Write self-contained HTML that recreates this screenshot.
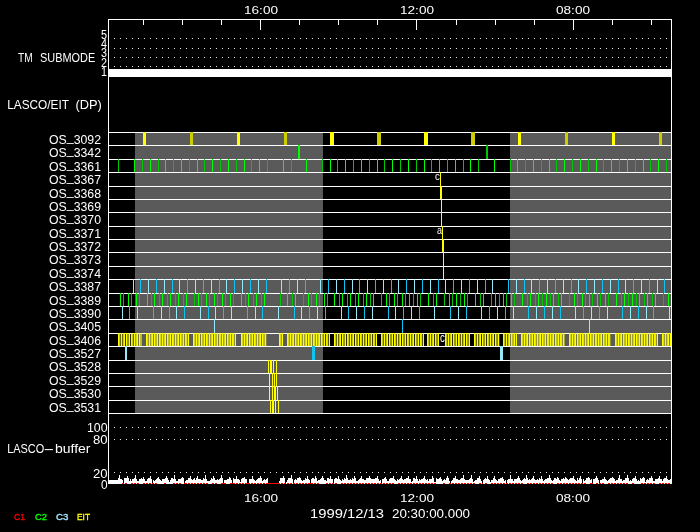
<!DOCTYPE html>
<html><head><meta charset="utf-8"><title>LASCO/EIT plan</title>
<style>
html,body{margin:0;padding:0;background:#000;}
svg{display:block;}
text{font-family:"Liberation Sans",sans-serif;}
</style></head>
<body>
<svg width="700" height="532" viewBox="0 0 700 532">
<rect x="0" y="0" width="700" height="532" fill="#000"/>
<g shape-rendering="crispEdges">
<rect x="135" y="132" width="188" height="281" fill="#5a5a5a"/>
<rect x="510" y="132" width="161" height="281" fill="#5a5a5a"/>
<rect x="108" y="132" width="564" height="1" fill="#ffffff"/>
<rect x="108" y="145" width="564" height="1" fill="#ffffff"/>
<rect x="108" y="159" width="564" height="1" fill="#ffffff"/>
<rect x="108" y="172" width="564" height="1" fill="#ffffff"/>
<rect x="108" y="186" width="564" height="1" fill="#ffffff"/>
<rect x="108" y="199" width="564" height="1" fill="#ffffff"/>
<rect x="108" y="212" width="564" height="1" fill="#ffffff"/>
<rect x="108" y="226" width="564" height="1" fill="#ffffff"/>
<rect x="108" y="239" width="564" height="1" fill="#ffffff"/>
<rect x="108" y="252" width="564" height="1" fill="#ffffff"/>
<rect x="108" y="266" width="564" height="1" fill="#ffffff"/>
<rect x="108" y="279" width="564" height="1" fill="#ffffff"/>
<rect x="108" y="293" width="564" height="1" fill="#ffffff"/>
<rect x="108" y="306" width="564" height="1" fill="#ffffff"/>
<rect x="108" y="319" width="564" height="1" fill="#ffffff"/>
<rect x="108" y="333" width="564" height="1" fill="#ffffff"/>
<rect x="108" y="346" width="564" height="1" fill="#ffffff"/>
<rect x="108" y="360" width="564" height="1" fill="#ffffff"/>
<rect x="108" y="373" width="564" height="1" fill="#ffffff"/>
<rect x="108" y="386" width="564" height="1" fill="#ffffff"/>
<rect x="108" y="400" width="564" height="1" fill="#ffffff"/>
<rect x="108" y="413" width="564" height="1" fill="#ffffff"/>
<rect x="143" y="132" width="3" height="13" fill="#ffff00"/>
<rect x="190" y="132" width="3" height="13" fill="#cdcd00"/>
<rect x="237" y="132" width="3" height="13" fill="#ffff00"/>
<rect x="284" y="132" width="3" height="13" fill="#cdcd00"/>
<rect x="330" y="132" width="4" height="13" fill="#ffff00"/>
<rect x="377" y="132" width="4" height="13" fill="#cdcd00"/>
<rect x="424" y="132" width="4" height="13" fill="#ffff00"/>
<rect x="471" y="132" width="4" height="13" fill="#cdcd00"/>
<rect x="518" y="132" width="3" height="13" fill="#ffff00"/>
<rect x="565" y="132" width="3" height="13" fill="#cdcd00"/>
<rect x="612" y="132" width="3" height="13" fill="#ffff00"/>
<rect x="659" y="132" width="3" height="13" fill="#cdcd00"/>
<rect x="298" y="145" width="2" height="14" fill="#00ff00"/>
<rect x="486" y="145" width="2" height="14" fill="#00c800"/>
<rect x="118" y="159" width="1" height="13" fill="#00c800"/>
<rect x="134" y="159" width="1" height="13" fill="#00ff00"/>
<rect x="142" y="159" width="1" height="13" fill="#00c800"/>
<rect x="150" y="159" width="1" height="13" fill="#00ff00"/>
<rect x="158" y="159" width="1" height="13" fill="#00c800"/>
<rect x="165" y="159" width="1" height="13" fill="#00ff00"/>
<rect x="173" y="159" width="1" height="13" fill="#00c800"/>
<rect x="181" y="159" width="1" height="13" fill="#00ff00"/>
<rect x="189" y="159" width="1" height="13" fill="#00c800"/>
<rect x="197" y="159" width="1" height="13" fill="#00ff00"/>
<rect x="204" y="159" width="1" height="13" fill="#00c800"/>
<rect x="212" y="159" width="1" height="13" fill="#00ff00"/>
<rect x="220" y="159" width="1" height="13" fill="#00c800"/>
<rect x="228" y="159" width="1" height="13" fill="#00ff00"/>
<rect x="236" y="159" width="1" height="13" fill="#00c800"/>
<rect x="244" y="159" width="1" height="13" fill="#00ff00"/>
<rect x="251" y="159" width="1" height="13" fill="#00c800"/>
<rect x="259" y="159" width="1" height="13" fill="#00ff00"/>
<rect x="267" y="159" width="1" height="13" fill="#00c800"/>
<rect x="283" y="159" width="1" height="13" fill="#00ff00"/>
<rect x="291" y="159" width="1" height="13" fill="#00c800"/>
<rect x="306" y="159" width="1" height="13" fill="#00ff00"/>
<rect x="322" y="159" width="1" height="13" fill="#00c800"/>
<rect x="330" y="159" width="1" height="13" fill="#00ff00"/>
<rect x="337" y="159" width="1" height="13" fill="#00c800"/>
<rect x="345" y="159" width="1" height="13" fill="#00ff00"/>
<rect x="353" y="159" width="1" height="13" fill="#00c800"/>
<rect x="361" y="159" width="1" height="13" fill="#00ff00"/>
<rect x="369" y="159" width="1" height="13" fill="#00c800"/>
<rect x="377" y="159" width="1" height="13" fill="#00ff00"/>
<rect x="384" y="159" width="1" height="13" fill="#00c800"/>
<rect x="392" y="159" width="1" height="13" fill="#00ff00"/>
<rect x="400" y="159" width="1" height="13" fill="#00c800"/>
<rect x="408" y="159" width="1" height="13" fill="#00ff00"/>
<rect x="416" y="159" width="1" height="13" fill="#00c800"/>
<rect x="424" y="159" width="1" height="13" fill="#00ff00"/>
<rect x="431" y="159" width="1" height="13" fill="#00c800"/>
<rect x="439" y="159" width="1" height="13" fill="#00ff00"/>
<rect x="447" y="159" width="1" height="13" fill="#00c800"/>
<rect x="455" y="159" width="1" height="13" fill="#00ff00"/>
<rect x="463" y="159" width="1" height="13" fill="#00c800"/>
<rect x="470" y="159" width="1" height="13" fill="#00ff00"/>
<rect x="478" y="159" width="1" height="13" fill="#00c800"/>
<rect x="494" y="159" width="1" height="13" fill="#00ff00"/>
<rect x="510" y="159" width="1" height="13" fill="#00c800"/>
<rect x="517" y="159" width="1" height="13" fill="#00ff00"/>
<rect x="525" y="159" width="1" height="13" fill="#00c800"/>
<rect x="533" y="159" width="1" height="13" fill="#00ff00"/>
<rect x="541" y="159" width="1" height="13" fill="#00c800"/>
<rect x="549" y="159" width="1" height="13" fill="#00ff00"/>
<rect x="556" y="159" width="1" height="13" fill="#00c800"/>
<rect x="564" y="159" width="1" height="13" fill="#00ff00"/>
<rect x="572" y="159" width="1" height="13" fill="#00c800"/>
<rect x="580" y="159" width="1" height="13" fill="#00ff00"/>
<rect x="588" y="159" width="1" height="13" fill="#00c800"/>
<rect x="596" y="159" width="1" height="13" fill="#00ff00"/>
<rect x="603" y="159" width="1" height="13" fill="#00c800"/>
<rect x="611" y="159" width="1" height="13" fill="#00ff00"/>
<rect x="619" y="159" width="1" height="13" fill="#00c800"/>
<rect x="627" y="159" width="1" height="13" fill="#00ff00"/>
<rect x="635" y="159" width="1" height="13" fill="#00c800"/>
<rect x="643" y="159" width="1" height="13" fill="#00ff00"/>
<rect x="650" y="159" width="1" height="13" fill="#00c800"/>
<rect x="658" y="159" width="1" height="13" fill="#00ff00"/>
<rect x="666" y="159" width="1" height="13" fill="#00c800"/>
<rect x="440" y="172" width="1" height="14" fill="#ffff00"/>
<rect x="440" y="186" width="2" height="13" fill="#ffff00"/>
<rect x="441" y="199" width="1" height="13" fill="#ffff00"/>
<rect x="441" y="212" width="1" height="14" fill="#ffff00"/>
<rect x="442" y="226" width="1" height="13" fill="#ffff00"/>
<rect x="442" y="239" width="2" height="13" fill="#ffff00"/>
<rect x="443" y="252" width="1" height="14" fill="#ffff00"/>
<rect x="443" y="266" width="1" height="13" fill="#ffff00"/>
<rect x="133" y="279" width="1" height="14" fill="#96eaf8"/>
<rect x="140" y="279" width="1" height="14" fill="#0ec4f0"/>
<rect x="148" y="279" width="1" height="14" fill="#96eaf8"/>
<rect x="156" y="279" width="1" height="14" fill="#0ec4f0"/>
<rect x="164" y="279" width="1" height="14" fill="#96eaf8"/>
<rect x="172" y="279" width="1" height="14" fill="#0ec4f0"/>
<rect x="179" y="279" width="1" height="14" fill="#96eaf8"/>
<rect x="187" y="279" width="1" height="14" fill="#0ec4f0"/>
<rect x="195" y="279" width="1" height="14" fill="#96eaf8"/>
<rect x="203" y="279" width="1" height="14" fill="#0ec4f0"/>
<rect x="211" y="279" width="1" height="14" fill="#96eaf8"/>
<rect x="219" y="279" width="1" height="14" fill="#0ec4f0"/>
<rect x="226" y="279" width="1" height="14" fill="#96eaf8"/>
<rect x="234" y="279" width="1" height="14" fill="#0ec4f0"/>
<rect x="242" y="279" width="1" height="14" fill="#96eaf8"/>
<rect x="250" y="279" width="1" height="14" fill="#0ec4f0"/>
<rect x="258" y="279" width="1" height="14" fill="#96eaf8"/>
<rect x="266" y="279" width="1" height="14" fill="#0ec4f0"/>
<rect x="281" y="279" width="1" height="14" fill="#96eaf8"/>
<rect x="289" y="279" width="1" height="14" fill="#0ec4f0"/>
<rect x="297" y="279" width="1" height="14" fill="#96eaf8"/>
<rect x="305" y="279" width="1" height="14" fill="#0ec4f0"/>
<rect x="320" y="279" width="1" height="14" fill="#96eaf8"/>
<rect x="328" y="279" width="1" height="14" fill="#0ec4f0"/>
<rect x="336" y="279" width="1" height="14" fill="#96eaf8"/>
<rect x="344" y="279" width="1" height="14" fill="#0ec4f0"/>
<rect x="352" y="279" width="1" height="14" fill="#96eaf8"/>
<rect x="359" y="279" width="1" height="14" fill="#0ec4f0"/>
<rect x="367" y="279" width="1" height="14" fill="#96eaf8"/>
<rect x="375" y="279" width="1" height="14" fill="#0ec4f0"/>
<rect x="383" y="279" width="1" height="14" fill="#96eaf8"/>
<rect x="391" y="279" width="1" height="14" fill="#0ec4f0"/>
<rect x="398" y="279" width="1" height="14" fill="#96eaf8"/>
<rect x="406" y="279" width="1" height="14" fill="#0ec4f0"/>
<rect x="414" y="279" width="1" height="14" fill="#96eaf8"/>
<rect x="422" y="279" width="1" height="14" fill="#0ec4f0"/>
<rect x="430" y="279" width="1" height="14" fill="#96eaf8"/>
<rect x="438" y="279" width="1" height="14" fill="#0ec4f0"/>
<rect x="445" y="279" width="1" height="14" fill="#96eaf8"/>
<rect x="453" y="279" width="1" height="14" fill="#0ec4f0"/>
<rect x="461" y="279" width="1" height="14" fill="#96eaf8"/>
<rect x="469" y="279" width="1" height="14" fill="#0ec4f0"/>
<rect x="477" y="279" width="1" height="14" fill="#96eaf8"/>
<rect x="485" y="279" width="1" height="14" fill="#0ec4f0"/>
<rect x="492" y="279" width="1" height="14" fill="#96eaf8"/>
<rect x="508" y="279" width="1" height="14" fill="#0ec4f0"/>
<rect x="516" y="279" width="1" height="14" fill="#96eaf8"/>
<rect x="524" y="279" width="1" height="14" fill="#0ec4f0"/>
<rect x="531" y="279" width="1" height="14" fill="#96eaf8"/>
<rect x="539" y="279" width="1" height="14" fill="#0ec4f0"/>
<rect x="547" y="279" width="1" height="14" fill="#96eaf8"/>
<rect x="555" y="279" width="1" height="14" fill="#0ec4f0"/>
<rect x="563" y="279" width="1" height="14" fill="#96eaf8"/>
<rect x="571" y="279" width="1" height="14" fill="#0ec4f0"/>
<rect x="578" y="279" width="1" height="14" fill="#96eaf8"/>
<rect x="586" y="279" width="1" height="14" fill="#0ec4f0"/>
<rect x="594" y="279" width="1" height="14" fill="#96eaf8"/>
<rect x="602" y="279" width="1" height="14" fill="#0ec4f0"/>
<rect x="610" y="279" width="1" height="14" fill="#96eaf8"/>
<rect x="618" y="279" width="1" height="14" fill="#0ec4f0"/>
<rect x="625" y="279" width="1" height="14" fill="#96eaf8"/>
<rect x="633" y="279" width="1" height="14" fill="#0ec4f0"/>
<rect x="641" y="279" width="1" height="14" fill="#96eaf8"/>
<rect x="649" y="279" width="1" height="14" fill="#0ec4f0"/>
<rect x="657" y="279" width="1" height="14" fill="#96eaf8"/>
<rect x="664" y="279" width="1" height="14" fill="#0ec4f0"/>
<rect x="120" y="293" width="1" height="13" fill="#00ff00"/>
<rect x="123" y="293" width="1" height="13" fill="#00c800"/>
<rect x="128" y="293" width="1" height="13" fill="#00ff00"/>
<rect x="131" y="293" width="1" height="13" fill="#00c800"/>
<rect x="136" y="293" width="1" height="13" fill="#00ff00"/>
<rect x="139" y="293" width="1" height="13" fill="#00c800"/>
<rect x="147" y="293" width="1" height="13" fill="#00ff00"/>
<rect x="151" y="293" width="1" height="13" fill="#00c800"/>
<rect x="154" y="293" width="1" height="13" fill="#00ff00"/>
<rect x="159" y="293" width="1" height="13" fill="#00c800"/>
<rect x="162" y="293" width="1" height="13" fill="#00ff00"/>
<rect x="167" y="293" width="1" height="13" fill="#00c800"/>
<rect x="170" y="293" width="1" height="13" fill="#00ff00"/>
<rect x="175" y="293" width="1" height="13" fill="#00c800"/>
<rect x="178" y="293" width="1" height="13" fill="#00ff00"/>
<rect x="183" y="293" width="1" height="13" fill="#00c800"/>
<rect x="186" y="293" width="1" height="13" fill="#00ff00"/>
<rect x="194" y="293" width="1" height="13" fill="#00c800"/>
<rect x="198" y="293" width="1" height="13" fill="#00ff00"/>
<rect x="201" y="293" width="1" height="13" fill="#00c800"/>
<rect x="206" y="293" width="1" height="13" fill="#00ff00"/>
<rect x="209" y="293" width="1" height="13" fill="#00c800"/>
<rect x="214" y="293" width="1" height="13" fill="#00ff00"/>
<rect x="217" y="293" width="1" height="13" fill="#00c800"/>
<rect x="222" y="293" width="1" height="13" fill="#00ff00"/>
<rect x="225" y="293" width="1" height="13" fill="#00c800"/>
<rect x="230" y="293" width="1" height="13" fill="#00ff00"/>
<rect x="233" y="293" width="1" height="13" fill="#00c800"/>
<rect x="241" y="293" width="1" height="13" fill="#00ff00"/>
<rect x="245" y="293" width="1" height="13" fill="#00c800"/>
<rect x="248" y="293" width="1" height="13" fill="#00ff00"/>
<rect x="253" y="293" width="1" height="13" fill="#00c800"/>
<rect x="256" y="293" width="1" height="13" fill="#00ff00"/>
<rect x="261" y="293" width="1" height="13" fill="#00c800"/>
<rect x="264" y="293" width="1" height="13" fill="#00ff00"/>
<rect x="280" y="293" width="1" height="13" fill="#00c800"/>
<rect x="287" y="293" width="1" height="13" fill="#00ff00"/>
<rect x="292" y="293" width="1" height="13" fill="#00c800"/>
<rect x="295" y="293" width="1" height="13" fill="#00ff00"/>
<rect x="303" y="293" width="1" height="13" fill="#00c800"/>
<rect x="308" y="293" width="1" height="13" fill="#00ff00"/>
<rect x="311" y="293" width="1" height="13" fill="#00c800"/>
<rect x="316" y="293" width="1" height="13" fill="#00ff00"/>
<rect x="319" y="293" width="1" height="13" fill="#00c800"/>
<rect x="324" y="293" width="1" height="13" fill="#00ff00"/>
<rect x="327" y="293" width="1" height="13" fill="#00c800"/>
<rect x="334" y="293" width="1" height="13" fill="#00ff00"/>
<rect x="339" y="293" width="1" height="13" fill="#00c800"/>
<rect x="342" y="293" width="1" height="13" fill="#00ff00"/>
<rect x="347" y="293" width="1" height="13" fill="#00c800"/>
<rect x="350" y="293" width="1" height="13" fill="#00ff00"/>
<rect x="355" y="293" width="1" height="13" fill="#00c800"/>
<rect x="358" y="293" width="1" height="13" fill="#00ff00"/>
<rect x="363" y="293" width="1" height="13" fill="#00c800"/>
<rect x="366" y="293" width="1" height="13" fill="#00ff00"/>
<rect x="370" y="293" width="1" height="13" fill="#00c800"/>
<rect x="373" y="293" width="1" height="13" fill="#00ff00"/>
<rect x="381" y="293" width="1" height="13" fill="#00c800"/>
<rect x="386" y="293" width="1" height="13" fill="#00ff00"/>
<rect x="389" y="293" width="1" height="13" fill="#00c800"/>
<rect x="394" y="293" width="1" height="13" fill="#00ff00"/>
<rect x="397" y="293" width="1" height="13" fill="#00c800"/>
<rect x="402" y="293" width="1" height="13" fill="#00ff00"/>
<rect x="405" y="293" width="1" height="13" fill="#00c800"/>
<rect x="409" y="293" width="1" height="13" fill="#00ff00"/>
<rect x="413" y="293" width="1" height="13" fill="#00c800"/>
<rect x="417" y="293" width="1" height="13" fill="#00ff00"/>
<rect x="420" y="293" width="1" height="13" fill="#00c800"/>
<rect x="428" y="293" width="1" height="13" fill="#00ff00"/>
<rect x="433" y="293" width="1" height="13" fill="#00c800"/>
<rect x="436" y="293" width="1" height="13" fill="#00ff00"/>
<rect x="444" y="293" width="1" height="13" fill="#00c800"/>
<rect x="449" y="293" width="1" height="13" fill="#00ff00"/>
<rect x="452" y="293" width="1" height="13" fill="#00c800"/>
<rect x="456" y="293" width="1" height="13" fill="#00ff00"/>
<rect x="460" y="293" width="1" height="13" fill="#00c800"/>
<rect x="464" y="293" width="1" height="13" fill="#00ff00"/>
<rect x="467" y="293" width="1" height="13" fill="#00c800"/>
<rect x="475" y="293" width="1" height="13" fill="#00ff00"/>
<rect x="480" y="293" width="1" height="13" fill="#00c800"/>
<rect x="483" y="293" width="1" height="13" fill="#00ff00"/>
<rect x="491" y="293" width="1" height="13" fill="#00c800"/>
<rect x="495" y="293" width="1" height="13" fill="#00ff00"/>
<rect x="499" y="293" width="1" height="13" fill="#00c800"/>
<rect x="503" y="293" width="1" height="13" fill="#00ff00"/>
<rect x="506" y="293" width="1" height="13" fill="#00c800"/>
<rect x="511" y="293" width="1" height="13" fill="#00ff00"/>
<rect x="514" y="293" width="1" height="13" fill="#00c800"/>
<rect x="522" y="293" width="1" height="13" fill="#00ff00"/>
<rect x="527" y="293" width="1" height="13" fill="#00c800"/>
<rect x="530" y="293" width="1" height="13" fill="#00ff00"/>
<rect x="535" y="293" width="1" height="13" fill="#00c800"/>
<rect x="538" y="293" width="1" height="13" fill="#00ff00"/>
<rect x="542" y="293" width="1" height="13" fill="#00c800"/>
<rect x="546" y="293" width="1" height="13" fill="#00ff00"/>
<rect x="550" y="293" width="1" height="13" fill="#00c800"/>
<rect x="553" y="293" width="1" height="13" fill="#00ff00"/>
<rect x="558" y="293" width="1" height="13" fill="#00c800"/>
<rect x="561" y="293" width="1" height="13" fill="#00ff00"/>
<rect x="569" y="293" width="1" height="13" fill="#00c800"/>
<rect x="574" y="293" width="1" height="13" fill="#00ff00"/>
<rect x="577" y="293" width="1" height="13" fill="#00c800"/>
<rect x="582" y="293" width="1" height="13" fill="#00ff00"/>
<rect x="585" y="293" width="1" height="13" fill="#00c800"/>
<rect x="589" y="293" width="1" height="13" fill="#00ff00"/>
<rect x="592" y="293" width="1" height="13" fill="#00c800"/>
<rect x="597" y="293" width="1" height="13" fill="#00ff00"/>
<rect x="600" y="293" width="1" height="13" fill="#00c800"/>
<rect x="605" y="293" width="1" height="13" fill="#00ff00"/>
<rect x="608" y="293" width="1" height="13" fill="#00c800"/>
<rect x="616" y="293" width="1" height="13" fill="#00ff00"/>
<rect x="621" y="293" width="1" height="13" fill="#00c800"/>
<rect x="624" y="293" width="1" height="13" fill="#00ff00"/>
<rect x="628" y="293" width="1" height="13" fill="#00c800"/>
<rect x="632" y="293" width="1" height="13" fill="#00ff00"/>
<rect x="636" y="293" width="1" height="13" fill="#00c800"/>
<rect x="639" y="293" width="1" height="13" fill="#00ff00"/>
<rect x="644" y="293" width="1" height="13" fill="#00c800"/>
<rect x="647" y="293" width="1" height="13" fill="#00ff00"/>
<rect x="652" y="293" width="1" height="13" fill="#00c800"/>
<rect x="655" y="293" width="1" height="13" fill="#00ff00"/>
<rect x="663" y="293" width="1" height="13" fill="#00c800"/>
<rect x="668" y="293" width="1" height="13" fill="#00ff00"/>
<rect x="122" y="306" width="1" height="13" fill="#96eaf8"/>
<rect x="129" y="306" width="1" height="13" fill="#0ec4f0"/>
<rect x="137" y="306" width="1" height="13" fill="#96eaf8"/>
<rect x="153" y="306" width="1" height="13" fill="#0ec4f0"/>
<rect x="161" y="306" width="1" height="13" fill="#96eaf8"/>
<rect x="169" y="306" width="1" height="13" fill="#0ec4f0"/>
<rect x="176" y="306" width="1" height="13" fill="#96eaf8"/>
<rect x="184" y="306" width="1" height="13" fill="#0ec4f0"/>
<rect x="200" y="306" width="1" height="13" fill="#96eaf8"/>
<rect x="208" y="306" width="1" height="13" fill="#0ec4f0"/>
<rect x="215" y="306" width="1" height="13" fill="#96eaf8"/>
<rect x="223" y="306" width="1" height="13" fill="#0ec4f0"/>
<rect x="231" y="306" width="1" height="13" fill="#96eaf8"/>
<rect x="247" y="306" width="1" height="13" fill="#0ec4f0"/>
<rect x="255" y="306" width="1" height="13" fill="#96eaf8"/>
<rect x="262" y="306" width="1" height="13" fill="#0ec4f0"/>
<rect x="278" y="306" width="1" height="13" fill="#96eaf8"/>
<rect x="294" y="306" width="1" height="13" fill="#0ec4f0"/>
<rect x="301" y="306" width="1" height="13" fill="#96eaf8"/>
<rect x="309" y="306" width="1" height="13" fill="#0ec4f0"/>
<rect x="317" y="306" width="1" height="13" fill="#96eaf8"/>
<rect x="325" y="306" width="1" height="13" fill="#0ec4f0"/>
<rect x="341" y="306" width="1" height="13" fill="#96eaf8"/>
<rect x="348" y="306" width="1" height="13" fill="#0ec4f0"/>
<rect x="356" y="306" width="1" height="13" fill="#96eaf8"/>
<rect x="364" y="306" width="1" height="13" fill="#0ec4f0"/>
<rect x="372" y="306" width="1" height="13" fill="#96eaf8"/>
<rect x="388" y="306" width="1" height="13" fill="#0ec4f0"/>
<rect x="395" y="306" width="1" height="13" fill="#96eaf8"/>
<rect x="403" y="306" width="1" height="13" fill="#0ec4f0"/>
<rect x="411" y="306" width="1" height="13" fill="#96eaf8"/>
<rect x="419" y="306" width="1" height="13" fill="#0ec4f0"/>
<rect x="434" y="306" width="1" height="13" fill="#96eaf8"/>
<rect x="450" y="306" width="1" height="13" fill="#0ec4f0"/>
<rect x="458" y="306" width="1" height="13" fill="#96eaf8"/>
<rect x="466" y="306" width="1" height="13" fill="#0ec4f0"/>
<rect x="481" y="306" width="1" height="13" fill="#96eaf8"/>
<rect x="489" y="306" width="1" height="13" fill="#0ec4f0"/>
<rect x="497" y="306" width="1" height="13" fill="#96eaf8"/>
<rect x="505" y="306" width="1" height="13" fill="#0ec4f0"/>
<rect x="513" y="306" width="1" height="13" fill="#96eaf8"/>
<rect x="528" y="306" width="1" height="13" fill="#0ec4f0"/>
<rect x="536" y="306" width="1" height="13" fill="#96eaf8"/>
<rect x="544" y="306" width="1" height="13" fill="#0ec4f0"/>
<rect x="552" y="306" width="1" height="13" fill="#96eaf8"/>
<rect x="560" y="306" width="1" height="13" fill="#0ec4f0"/>
<rect x="575" y="306" width="1" height="13" fill="#96eaf8"/>
<rect x="583" y="306" width="1" height="13" fill="#0ec4f0"/>
<rect x="591" y="306" width="1" height="13" fill="#96eaf8"/>
<rect x="599" y="306" width="1" height="13" fill="#0ec4f0"/>
<rect x="607" y="306" width="1" height="13" fill="#96eaf8"/>
<rect x="622" y="306" width="1" height="13" fill="#0ec4f0"/>
<rect x="630" y="306" width="1" height="13" fill="#96eaf8"/>
<rect x="638" y="306" width="1" height="13" fill="#0ec4f0"/>
<rect x="646" y="306" width="1" height="13" fill="#96eaf8"/>
<rect x="653" y="306" width="1" height="13" fill="#0ec4f0"/>
<rect x="669" y="306" width="1" height="13" fill="#96eaf8"/>
<rect x="214" y="319" width="1" height="14" fill="#96eaf8"/>
<rect x="402" y="319" width="1" height="14" fill="#0ec4f0"/>
<rect x="589" y="319" width="1" height="14" fill="#96eaf8"/>
</g><g><rect x="118.00" y="333" width="1.78" height="13" fill="#ffff00"/><rect x="120.61" y="333" width="1.78" height="13" fill="#ffff00"/><rect x="123.21" y="333" width="1.78" height="13" fill="#ffff00"/><rect x="125.82" y="333" width="1.78" height="13" fill="#ffff00"/><rect x="128.42" y="333" width="1.78" height="13" fill="#ffff00"/><rect x="131.03" y="333" width="1.78" height="13" fill="#ffff00"/><rect x="133.63" y="333" width="1.78" height="13" fill="#ffff00"/><rect x="136.23" y="333" width="1.78" height="13" fill="#ffff00"/><rect x="138.84" y="333" width="1.78" height="13" fill="#ffff00"/><rect x="141.44" y="333" width="0.56" height="13" fill="#ffff00"/><rect x="146.00" y="333" width="1.78" height="13" fill="#ffff00"/><rect x="148.60" y="333" width="1.78" height="13" fill="#ffff00"/><rect x="151.21" y="333" width="1.78" height="13" fill="#ffff00"/><rect x="153.81" y="333" width="1.78" height="13" fill="#ffff00"/><rect x="156.42" y="333" width="1.78" height="13" fill="#ffff00"/><rect x="159.02" y="333" width="1.78" height="13" fill="#ffff00"/><rect x="161.63" y="333" width="1.78" height="13" fill="#ffff00"/><rect x="164.23" y="333" width="1.78" height="13" fill="#ffff00"/><rect x="166.84" y="333" width="1.78" height="13" fill="#ffff00"/><rect x="169.44" y="333" width="1.78" height="13" fill="#ffff00"/><rect x="172.05" y="333" width="1.78" height="13" fill="#ffff00"/><rect x="174.65" y="333" width="1.78" height="13" fill="#ffff00"/><rect x="177.26" y="333" width="1.78" height="13" fill="#ffff00"/><rect x="179.86" y="333" width="1.78" height="13" fill="#ffff00"/><rect x="182.47" y="333" width="1.78" height="13" fill="#ffff00"/><rect x="185.07" y="333" width="1.78" height="13" fill="#ffff00"/><rect x="187.68" y="333" width="1.32" height="13" fill="#ffff00"/><rect x="193.00" y="333" width="1.78" height="13" fill="#ffff00"/><rect x="195.60" y="333" width="1.78" height="13" fill="#ffff00"/><rect x="198.21" y="333" width="1.78" height="13" fill="#ffff00"/><rect x="200.81" y="333" width="1.78" height="13" fill="#ffff00"/><rect x="203.42" y="333" width="1.78" height="13" fill="#ffff00"/><rect x="206.02" y="333" width="1.78" height="13" fill="#ffff00"/><rect x="208.63" y="333" width="1.78" height="13" fill="#ffff00"/><rect x="211.23" y="333" width="1.78" height="13" fill="#ffff00"/><rect x="213.84" y="333" width="1.78" height="13" fill="#ffff00"/><rect x="216.44" y="333" width="1.78" height="13" fill="#ffff00"/><rect x="219.05" y="333" width="1.78" height="13" fill="#ffff00"/><rect x="221.65" y="333" width="1.78" height="13" fill="#ffff00"/><rect x="224.26" y="333" width="1.78" height="13" fill="#ffff00"/><rect x="226.86" y="333" width="1.78" height="13" fill="#ffff00"/><rect x="229.47" y="333" width="1.78" height="13" fill="#ffff00"/><rect x="232.07" y="333" width="1.78" height="13" fill="#ffff00"/><rect x="234.68" y="333" width="1.32" height="13" fill="#ffff00"/><rect x="241.00" y="333" width="1.78" height="13" fill="#ffff00"/><rect x="243.60" y="333" width="1.78" height="13" fill="#ffff00"/><rect x="246.21" y="333" width="1.78" height="13" fill="#ffff00"/><rect x="248.81" y="333" width="1.78" height="13" fill="#ffff00"/><rect x="251.42" y="333" width="1.78" height="13" fill="#ffff00"/><rect x="254.02" y="333" width="1.78" height="13" fill="#ffff00"/><rect x="256.63" y="333" width="1.78" height="13" fill="#ffff00"/><rect x="259.23" y="333" width="1.78" height="13" fill="#ffff00"/><rect x="261.84" y="333" width="1.78" height="13" fill="#ffff00"/><rect x="264.44" y="333" width="1.78" height="13" fill="#ffff00"/><rect x="279.00" y="333" width="1.78" height="13" fill="#ffff00"/><rect x="281.61" y="333" width="1.39" height="13" fill="#ffff00"/><rect x="287.00" y="333" width="1.78" height="13" fill="#ffff00"/><rect x="289.61" y="333" width="1.78" height="13" fill="#ffff00"/><rect x="292.21" y="333" width="1.78" height="13" fill="#ffff00"/><rect x="294.82" y="333" width="1.78" height="13" fill="#ffff00"/><rect x="297.42" y="333" width="1.78" height="13" fill="#ffff00"/><rect x="300.03" y="333" width="1.78" height="13" fill="#ffff00"/><rect x="302.63" y="333" width="1.78" height="13" fill="#ffff00"/><rect x="305.24" y="333" width="1.78" height="13" fill="#ffff00"/><rect x="307.84" y="333" width="1.78" height="13" fill="#ffff00"/><rect x="310.45" y="333" width="1.78" height="13" fill="#ffff00"/><rect x="313.05" y="333" width="1.78" height="13" fill="#ffff00"/><rect x="315.66" y="333" width="1.78" height="13" fill="#ffff00"/><rect x="318.26" y="333" width="1.78" height="13" fill="#ffff00"/><rect x="320.87" y="333" width="1.78" height="13" fill="#ffff00"/><rect x="323.47" y="333" width="1.78" height="13" fill="#ffff00"/><rect x="326.08" y="333" width="1.78" height="13" fill="#ffff00"/><rect x="328.68" y="333" width="1.32" height="13" fill="#ffff00"/><rect x="334.00" y="333" width="1.78" height="13" fill="#ffff00"/><rect x="336.61" y="333" width="1.78" height="13" fill="#ffff00"/><rect x="339.21" y="333" width="1.78" height="13" fill="#ffff00"/><rect x="341.82" y="333" width="1.78" height="13" fill="#ffff00"/><rect x="344.42" y="333" width="1.78" height="13" fill="#ffff00"/><rect x="347.03" y="333" width="1.78" height="13" fill="#ffff00"/><rect x="349.63" y="333" width="1.78" height="13" fill="#ffff00"/><rect x="352.24" y="333" width="1.78" height="13" fill="#ffff00"/><rect x="354.84" y="333" width="1.78" height="13" fill="#ffff00"/><rect x="357.45" y="333" width="1.78" height="13" fill="#ffff00"/><rect x="360.05" y="333" width="1.78" height="13" fill="#ffff00"/><rect x="362.66" y="333" width="1.78" height="13" fill="#ffff00"/><rect x="365.26" y="333" width="1.78" height="13" fill="#ffff00"/><rect x="367.87" y="333" width="1.78" height="13" fill="#ffff00"/><rect x="370.47" y="333" width="1.78" height="13" fill="#ffff00"/><rect x="373.08" y="333" width="1.78" height="13" fill="#ffff00"/><rect x="375.68" y="333" width="1.32" height="13" fill="#ffff00"/><rect x="381.00" y="333" width="1.78" height="13" fill="#ffff00"/><rect x="383.61" y="333" width="1.78" height="13" fill="#ffff00"/><rect x="386.21" y="333" width="1.78" height="13" fill="#ffff00"/><rect x="388.82" y="333" width="1.78" height="13" fill="#ffff00"/><rect x="391.42" y="333" width="1.78" height="13" fill="#ffff00"/><rect x="394.03" y="333" width="1.78" height="13" fill="#ffff00"/><rect x="396.63" y="333" width="1.78" height="13" fill="#ffff00"/><rect x="399.24" y="333" width="1.78" height="13" fill="#ffff00"/><rect x="401.84" y="333" width="1.78" height="13" fill="#ffff00"/><rect x="404.45" y="333" width="1.78" height="13" fill="#ffff00"/><rect x="407.05" y="333" width="1.78" height="13" fill="#ffff00"/><rect x="409.66" y="333" width="1.78" height="13" fill="#ffff00"/><rect x="412.26" y="333" width="1.78" height="13" fill="#ffff00"/><rect x="414.87" y="333" width="1.78" height="13" fill="#ffff00"/><rect x="417.47" y="333" width="1.78" height="13" fill="#ffff00"/><rect x="420.08" y="333" width="1.78" height="13" fill="#ffff00"/><rect x="422.68" y="333" width="1.32" height="13" fill="#ffff00"/><rect x="427.00" y="333" width="1.78" height="13" fill="#ffff00"/><rect x="429.61" y="333" width="1.78" height="13" fill="#ffff00"/><rect x="432.21" y="333" width="1.78" height="13" fill="#ffff00"/><rect x="434.82" y="333" width="1.78" height="13" fill="#ffff00"/><rect x="437.42" y="333" width="1.58" height="13" fill="#ffff00"/><rect x="445.00" y="333" width="1.78" height="13" fill="#ffff00"/><rect x="447.61" y="333" width="1.78" height="13" fill="#ffff00"/><rect x="450.21" y="333" width="1.78" height="13" fill="#ffff00"/><rect x="452.82" y="333" width="1.78" height="13" fill="#ffff00"/><rect x="455.42" y="333" width="1.78" height="13" fill="#ffff00"/><rect x="458.03" y="333" width="1.78" height="13" fill="#ffff00"/><rect x="460.63" y="333" width="1.78" height="13" fill="#ffff00"/><rect x="463.24" y="333" width="1.78" height="13" fill="#ffff00"/><rect x="465.84" y="333" width="1.78" height="13" fill="#ffff00"/><rect x="468.45" y="333" width="1.55" height="13" fill="#ffff00"/><rect x="474.00" y="333" width="1.78" height="13" fill="#ffff00"/><rect x="476.61" y="333" width="1.78" height="13" fill="#ffff00"/><rect x="479.21" y="333" width="1.78" height="13" fill="#ffff00"/><rect x="481.82" y="333" width="1.78" height="13" fill="#ffff00"/><rect x="484.42" y="333" width="1.78" height="13" fill="#ffff00"/><rect x="487.03" y="333" width="1.78" height="13" fill="#ffff00"/><rect x="489.63" y="333" width="1.78" height="13" fill="#ffff00"/><rect x="492.24" y="333" width="1.78" height="13" fill="#ffff00"/><rect x="494.84" y="333" width="1.78" height="13" fill="#ffff00"/><rect x="497.45" y="333" width="1.78" height="13" fill="#ffff00"/><rect x="503.00" y="333" width="1.78" height="13" fill="#ffff00"/><rect x="505.61" y="333" width="1.78" height="13" fill="#ffff00"/><rect x="508.21" y="333" width="1.78" height="13" fill="#ffff00"/><rect x="510.82" y="333" width="1.78" height="13" fill="#ffff00"/><rect x="513.42" y="333" width="1.78" height="13" fill="#ffff00"/><rect x="516.03" y="333" width="0.97" height="13" fill="#ffff00"/><rect x="521.00" y="333" width="1.78" height="13" fill="#ffff00"/><rect x="523.61" y="333" width="1.78" height="13" fill="#ffff00"/><rect x="526.21" y="333" width="1.78" height="13" fill="#ffff00"/><rect x="528.82" y="333" width="1.78" height="13" fill="#ffff00"/><rect x="531.42" y="333" width="1.78" height="13" fill="#ffff00"/><rect x="534.03" y="333" width="1.78" height="13" fill="#ffff00"/><rect x="536.63" y="333" width="1.78" height="13" fill="#ffff00"/><rect x="539.24" y="333" width="1.78" height="13" fill="#ffff00"/><rect x="541.84" y="333" width="1.78" height="13" fill="#ffff00"/><rect x="544.45" y="333" width="1.78" height="13" fill="#ffff00"/><rect x="547.05" y="333" width="1.78" height="13" fill="#ffff00"/><rect x="549.66" y="333" width="1.78" height="13" fill="#ffff00"/><rect x="552.26" y="333" width="1.78" height="13" fill="#ffff00"/><rect x="554.87" y="333" width="1.78" height="13" fill="#ffff00"/><rect x="557.47" y="333" width="1.78" height="13" fill="#ffff00"/><rect x="560.08" y="333" width="1.78" height="13" fill="#ffff00"/><rect x="562.68" y="333" width="1.78" height="13" fill="#ffff00"/><rect x="569.00" y="333" width="1.78" height="13" fill="#ffff00"/><rect x="571.61" y="333" width="1.78" height="13" fill="#ffff00"/><rect x="574.21" y="333" width="1.78" height="13" fill="#ffff00"/><rect x="576.82" y="333" width="1.78" height="13" fill="#ffff00"/><rect x="579.42" y="333" width="1.78" height="13" fill="#ffff00"/><rect x="582.03" y="333" width="1.78" height="13" fill="#ffff00"/><rect x="584.63" y="333" width="1.78" height="13" fill="#ffff00"/><rect x="587.24" y="333" width="1.78" height="13" fill="#ffff00"/><rect x="589.84" y="333" width="1.78" height="13" fill="#ffff00"/><rect x="592.45" y="333" width="1.78" height="13" fill="#ffff00"/><rect x="595.05" y="333" width="1.78" height="13" fill="#ffff00"/><rect x="597.66" y="333" width="1.78" height="13" fill="#ffff00"/><rect x="600.26" y="333" width="1.78" height="13" fill="#ffff00"/><rect x="602.87" y="333" width="1.78" height="13" fill="#ffff00"/><rect x="605.47" y="333" width="1.78" height="13" fill="#ffff00"/><rect x="608.08" y="333" width="1.78" height="13" fill="#ffff00"/><rect x="610.68" y="333" width="0.32" height="13" fill="#ffff00"/><rect x="615.00" y="333" width="1.78" height="13" fill="#ffff00"/><rect x="617.61" y="333" width="1.78" height="13" fill="#ffff00"/><rect x="620.21" y="333" width="1.78" height="13" fill="#ffff00"/><rect x="622.82" y="333" width="1.78" height="13" fill="#ffff00"/><rect x="625.42" y="333" width="1.78" height="13" fill="#ffff00"/><rect x="628.03" y="333" width="1.78" height="13" fill="#ffff00"/><rect x="630.63" y="333" width="1.78" height="13" fill="#ffff00"/><rect x="633.24" y="333" width="1.78" height="13" fill="#ffff00"/><rect x="635.84" y="333" width="1.78" height="13" fill="#ffff00"/><rect x="638.45" y="333" width="1.78" height="13" fill="#ffff00"/><rect x="641.05" y="333" width="1.78" height="13" fill="#ffff00"/><rect x="643.66" y="333" width="1.78" height="13" fill="#ffff00"/><rect x="646.26" y="333" width="1.78" height="13" fill="#ffff00"/><rect x="648.87" y="333" width="1.78" height="13" fill="#ffff00"/><rect x="651.47" y="333" width="1.78" height="13" fill="#ffff00"/><rect x="654.08" y="333" width="1.78" height="13" fill="#ffff00"/><rect x="656.68" y="333" width="1.32" height="13" fill="#ffff00"/><rect x="662.00" y="333" width="1.78" height="13" fill="#ffff00"/><rect x="664.61" y="333" width="1.78" height="13" fill="#ffff00"/><rect x="667.21" y="333" width="1.78" height="13" fill="#ffff00"/><rect x="669.82" y="333" width="1.18" height="13" fill="#ffff00"/></g><g shape-rendering="crispEdges">
<rect x="125" y="346" width="2" height="14" fill="#96eaf8"/>
<rect x="312" y="346" width="3" height="14" fill="#0ec4f0"/>
<rect x="500" y="346" width="3" height="14" fill="#96eaf8"/>
<rect x="268" y="360" width="1" height="13" fill="#ffff00"/>
<rect x="270" y="360" width="2" height="13" fill="#ffff00"/>
<rect x="273" y="360" width="1" height="13" fill="#ffff00"/>
<rect x="276" y="360" width="1" height="13" fill="#ffff00"/>
<rect x="269" y="373" width="1" height="13" fill="#ffff00"/>
<rect x="272" y="373" width="1" height="13" fill="#ffff00"/>
<rect x="274" y="373" width="1" height="13" fill="#ffff00"/>
<rect x="276" y="373" width="1" height="13" fill="#ffff00"/>
<rect x="269" y="386" width="1" height="14" fill="#ffff00"/>
<rect x="272" y="386" width="1" height="14" fill="#ffff00"/>
<rect x="274" y="386" width="2" height="14" fill="#ffff00"/>
<rect x="277" y="386" width="1" height="14" fill="#ffff00"/>
<rect x="270" y="400" width="1" height="13" fill="#ffff00"/>
<rect x="272" y="400" width="2" height="13" fill="#ffff00"/>
<rect x="275" y="400" width="1" height="13" fill="#ffff00"/>
<rect x="278" y="400" width="1" height="13" fill="#ffff00"/>
<rect x="108" y="69" width="564" height="8" fill="#ffffff"/>
<line x1="114" y1="38.5" x2="667" y2="38.5" stroke="#e6e6e6" stroke-width="1" stroke-dasharray="1 5"/>
<line x1="114" y1="48.5" x2="667" y2="48.5" stroke="#e6e6e6" stroke-width="1" stroke-dasharray="1 5"/>
<line x1="114" y1="57.5" x2="667" y2="57.5" stroke="#e6e6e6" stroke-width="1" stroke-dasharray="1 5"/>
<line x1="114" y1="66.5" x2="667" y2="66.5" stroke="#e6e6e6" stroke-width="1" stroke-dasharray="1 5"/>
<line x1="114" y1="427.5" x2="667" y2="427.5" stroke="#e6e6e6" stroke-width="1" stroke-dasharray="1 5"/>
<line x1="114" y1="439.5" x2="667" y2="439.5" stroke="#e6e6e6" stroke-width="1" stroke-dasharray="1 5"/>
<line x1="114" y1="472.5" x2="667" y2="472.5" stroke="#e6e6e6" stroke-width="1" stroke-dasharray="1 5"/>
<rect x="108" y="19" width="1" height="465" fill="#ffffff"/>
<rect x="671" y="19" width="1" height="465" fill="#ffffff"/>
<rect x="108" y="19" width="564" height="1" fill="#ffffff"/>
<rect x="143" y="19" width="1" height="6" fill="#ffffff"/>
<rect x="182" y="19" width="1" height="6" fill="#ffffff"/>
<rect x="221" y="19" width="1" height="6" fill="#ffffff"/>
<rect x="260" y="19" width="1" height="11" fill="#ffffff"/>
<rect x="299" y="19" width="1" height="6" fill="#ffffff"/>
<rect x="338" y="19" width="1" height="6" fill="#ffffff"/>
<rect x="377" y="19" width="1" height="6" fill="#ffffff"/>
<rect x="416" y="19" width="1" height="11" fill="#ffffff"/>
<rect x="456" y="19" width="1" height="6" fill="#ffffff"/>
<rect x="495" y="19" width="1" height="6" fill="#ffffff"/>
<rect x="534" y="19" width="1" height="6" fill="#ffffff"/>
<rect x="573" y="19" width="1" height="11" fill="#ffffff"/>
<rect x="612" y="19" width="1" height="6" fill="#ffffff"/>
<rect x="651" y="19" width="1" height="6" fill="#ffffff"/>
<rect x="109" y="480" width="1" height="4" fill="#ffffff"/>
<rect x="110" y="480" width="1" height="4" fill="#ffffff"/>
<rect x="111" y="480" width="1" height="4" fill="#ffffff"/>
<rect x="112" y="480" width="1" height="4" fill="#ffffff"/>
<rect x="113" y="480" width="1" height="4" fill="#ffffff"/>
<rect x="114" y="480" width="1" height="4" fill="#ffffff"/>
<rect x="115" y="480" width="1" height="4" fill="#ffffff"/>
<rect x="116" y="480" width="1" height="4" fill="#ffffff"/>
<rect x="117" y="480" width="1" height="4" fill="#ffffff"/>
<rect x="118" y="478" width="1" height="6" fill="#ffffff"/>
<rect x="119" y="475" width="1" height="9" fill="#ffffff"/>
<rect x="120" y="479" width="1" height="5" fill="#ffffff"/>
<rect x="121" y="479" width="1" height="5" fill="#ffffff"/>
<rect x="122" y="480" width="1" height="4" fill="#ffffff"/>
<rect x="122" y="483" width="1" height="1" fill="#ff0000"/>
<rect x="123" y="483" width="1" height="1" fill="#ffffff"/>
<rect x="123" y="483" width="1" height="1" fill="#ff0000"/>
<rect x="124" y="478" width="1" height="6" fill="#ffffff"/>
<rect x="125" y="478" width="1" height="6" fill="#ffffff"/>
<rect x="125" y="483" width="1" height="1" fill="#ff0000"/>
<rect x="126" y="478" width="1" height="6" fill="#ffffff"/>
<rect x="126" y="483" width="1" height="1" fill="#ff0000"/>
<rect x="127" y="476" width="1" height="8" fill="#ffffff"/>
<rect x="128" y="478" width="1" height="6" fill="#ffffff"/>
<rect x="129" y="481" width="1" height="3" fill="#ffffff"/>
<rect x="130" y="479" width="1" height="5" fill="#ffffff"/>
<rect x="131" y="481" width="1" height="3" fill="#ffffff"/>
<rect x="131" y="483" width="1" height="1" fill="#ff0000"/>
<rect x="132" y="479" width="1" height="5" fill="#ffffff"/>
<rect x="132" y="483" width="1" height="1" fill="#ff0000"/>
<rect x="133" y="479" width="1" height="5" fill="#ffffff"/>
<rect x="134" y="478" width="1" height="6" fill="#ffffff"/>
<rect x="134" y="483" width="1" height="1" fill="#ff0000"/>
<rect x="135" y="475" width="1" height="9" fill="#ffffff"/>
<rect x="135" y="483" width="1" height="1" fill="#ff0000"/>
<rect x="136" y="479" width="1" height="5" fill="#ffffff"/>
<rect x="137" y="481" width="1" height="3" fill="#ffffff"/>
<rect x="137" y="483" width="1" height="1" fill="#ff0000"/>
<rect x="138" y="481" width="1" height="3" fill="#ffffff"/>
<rect x="138" y="483" width="1" height="1" fill="#ff0000"/>
<rect x="139" y="479" width="1" height="5" fill="#ffffff"/>
<rect x="140" y="479" width="1" height="5" fill="#ffffff"/>
<rect x="141" y="478" width="1" height="6" fill="#ffffff"/>
<rect x="142" y="479" width="1" height="5" fill="#ffffff"/>
<rect x="143" y="477" width="1" height="7" fill="#ffffff"/>
<rect x="143" y="483" width="1" height="1" fill="#ff0000"/>
<rect x="144" y="479" width="1" height="5" fill="#ffffff"/>
<rect x="144" y="483" width="1" height="1" fill="#ff0000"/>
<rect x="145" y="481" width="1" height="3" fill="#ffffff"/>
<rect x="146" y="481" width="1" height="3" fill="#ffffff"/>
<rect x="146" y="483" width="1" height="1" fill="#ff0000"/>
<rect x="147" y="479" width="1" height="5" fill="#ffffff"/>
<rect x="147" y="483" width="1" height="1" fill="#ff0000"/>
<rect x="148" y="478" width="1" height="6" fill="#ffffff"/>
<rect x="149" y="478" width="1" height="6" fill="#ffffff"/>
<rect x="149" y="483" width="1" height="1" fill="#ff0000"/>
<rect x="150" y="476" width="1" height="8" fill="#ffffff"/>
<rect x="150" y="483" width="1" height="1" fill="#ff0000"/>
<rect x="151" y="479" width="1" height="5" fill="#ffffff"/>
<rect x="152" y="483" width="1" height="1" fill="#ffffff"/>
<rect x="152" y="483" width="1" height="1" fill="#ff0000"/>
<rect x="153" y="480" width="1" height="4" fill="#ffffff"/>
<rect x="153" y="483" width="1" height="1" fill="#ff0000"/>
<rect x="154" y="481" width="1" height="3" fill="#ffffff"/>
<rect x="155" y="480" width="1" height="4" fill="#ffffff"/>
<rect x="155" y="483" width="1" height="1" fill="#ff0000"/>
<rect x="156" y="479" width="1" height="5" fill="#ffffff"/>
<rect x="156" y="483" width="1" height="1" fill="#ff0000"/>
<rect x="157" y="478" width="1" height="6" fill="#ffffff"/>
<rect x="158" y="477" width="1" height="7" fill="#ffffff"/>
<rect x="159" y="479" width="1" height="5" fill="#ffffff"/>
<rect x="160" y="480" width="1" height="4" fill="#ffffff"/>
<rect x="161" y="481" width="1" height="3" fill="#ffffff"/>
<rect x="162" y="479" width="1" height="5" fill="#ffffff"/>
<rect x="163" y="479" width="1" height="5" fill="#ffffff"/>
<rect x="164" y="479" width="1" height="5" fill="#ffffff"/>
<rect x="164" y="483" width="1" height="1" fill="#ff0000"/>
<rect x="165" y="478" width="1" height="6" fill="#ffffff"/>
<rect x="165" y="483" width="1" height="1" fill="#ff0000"/>
<rect x="166" y="476" width="1" height="8" fill="#ffffff"/>
<rect x="167" y="478" width="1" height="6" fill="#ffffff"/>
<rect x="168" y="480" width="1" height="4" fill="#ffffff"/>
<rect x="169" y="482" width="1" height="2" fill="#ffffff"/>
<rect x="170" y="480" width="1" height="4" fill="#ffffff"/>
<rect x="171" y="478" width="1" height="6" fill="#ffffff"/>
<rect x="172" y="478" width="1" height="6" fill="#ffffff"/>
<rect x="173" y="479" width="1" height="5" fill="#ffffff"/>
<rect x="173" y="483" width="1" height="1" fill="#ff0000"/>
<rect x="174" y="475" width="1" height="9" fill="#ffffff"/>
<rect x="174" y="483" width="1" height="1" fill="#ff0000"/>
<rect x="175" y="479" width="1" height="5" fill="#ffffff"/>
<rect x="176" y="481" width="1" height="3" fill="#ffffff"/>
<rect x="176" y="483" width="1" height="1" fill="#ff0000"/>
<rect x="177" y="481" width="1" height="3" fill="#ffffff"/>
<rect x="177" y="483" width="1" height="1" fill="#ff0000"/>
<rect x="178" y="479" width="1" height="5" fill="#ffffff"/>
<rect x="179" y="479" width="1" height="5" fill="#ffffff"/>
<rect x="179" y="483" width="1" height="1" fill="#ff0000"/>
<rect x="180" y="479" width="1" height="5" fill="#ffffff"/>
<rect x="180" y="483" width="1" height="1" fill="#ff0000"/>
<rect x="181" y="478" width="1" height="6" fill="#ffffff"/>
<rect x="182" y="477" width="1" height="7" fill="#ffffff"/>
<rect x="183" y="478" width="1" height="6" fill="#ffffff"/>
<rect x="184" y="483" width="1" height="1" fill="#ffffff"/>
<rect x="184" y="483" width="1" height="1" fill="#ff0000"/>
<rect x="185" y="481" width="1" height="3" fill="#ffffff"/>
<rect x="185" y="483" width="1" height="1" fill="#ff0000"/>
<rect x="186" y="480" width="1" height="4" fill="#ffffff"/>
<rect x="186" y="483" width="1" height="1" fill="#ff0000"/>
<rect x="187" y="480" width="1" height="4" fill="#ffffff"/>
<rect x="188" y="478" width="1" height="6" fill="#ffffff"/>
<rect x="188" y="483" width="1" height="1" fill="#ff0000"/>
<rect x="189" y="478" width="1" height="6" fill="#ffffff"/>
<rect x="189" y="483" width="1" height="1" fill="#ff0000"/>
<rect x="190" y="476" width="1" height="8" fill="#ffffff"/>
<rect x="191" y="479" width="1" height="5" fill="#ffffff"/>
<rect x="191" y="483" width="1" height="1" fill="#ff0000"/>
<rect x="192" y="480" width="1" height="4" fill="#ffffff"/>
<rect x="192" y="483" width="1" height="1" fill="#ff0000"/>
<rect x="193" y="479" width="1" height="5" fill="#ffffff"/>
<rect x="194" y="478" width="1" height="6" fill="#ffffff"/>
<rect x="194" y="483" width="1" height="1" fill="#ff0000"/>
<rect x="195" y="480" width="1" height="4" fill="#ffffff"/>
<rect x="195" y="483" width="1" height="1" fill="#ff0000"/>
<rect x="196" y="478" width="1" height="6" fill="#ffffff"/>
<rect x="197" y="476" width="1" height="8" fill="#ffffff"/>
<rect x="197" y="483" width="1" height="1" fill="#ff0000"/>
<rect x="198" y="479" width="1" height="5" fill="#ffffff"/>
<rect x="198" y="483" width="1" height="1" fill="#ff0000"/>
<rect x="199" y="479" width="1" height="5" fill="#ffffff"/>
<rect x="200" y="479" width="1" height="5" fill="#ffffff"/>
<rect x="200" y="483" width="1" height="1" fill="#ff0000"/>
<rect x="201" y="480" width="1" height="4" fill="#ffffff"/>
<rect x="201" y="483" width="1" height="1" fill="#ff0000"/>
<rect x="202" y="480" width="1" height="4" fill="#ffffff"/>
<rect x="203" y="478" width="1" height="6" fill="#ffffff"/>
<rect x="203" y="483" width="1" height="1" fill="#ff0000"/>
<rect x="204" y="479" width="1" height="5" fill="#ffffff"/>
<rect x="204" y="483" width="1" height="1" fill="#ff0000"/>
<rect x="205" y="475" width="1" height="9" fill="#ffffff"/>
<rect x="206" y="479" width="1" height="5" fill="#ffffff"/>
<rect x="206" y="483" width="1" height="1" fill="#ff0000"/>
<rect x="207" y="481" width="1" height="3" fill="#ffffff"/>
<rect x="207" y="483" width="1" height="1" fill="#ff0000"/>
<rect x="208" y="481" width="1" height="3" fill="#ffffff"/>
<rect x="209" y="481" width="1" height="3" fill="#ffffff"/>
<rect x="210" y="480" width="1" height="4" fill="#ffffff"/>
<rect x="211" y="478" width="1" height="6" fill="#ffffff"/>
<rect x="212" y="479" width="1" height="5" fill="#ffffff"/>
<rect x="212" y="483" width="1" height="1" fill="#ff0000"/>
<rect x="213" y="476" width="1" height="8" fill="#ffffff"/>
<rect x="213" y="483" width="1" height="1" fill="#ff0000"/>
<rect x="214" y="478" width="1" height="6" fill="#ffffff"/>
<rect x="215" y="480" width="1" height="4" fill="#ffffff"/>
<rect x="215" y="483" width="1" height="1" fill="#ff0000"/>
<rect x="216" y="480" width="1" height="4" fill="#ffffff"/>
<rect x="216" y="483" width="1" height="1" fill="#ff0000"/>
<rect x="217" y="479" width="1" height="5" fill="#ffffff"/>
<rect x="218" y="480" width="1" height="4" fill="#ffffff"/>
<rect x="219" y="479" width="1" height="5" fill="#ffffff"/>
<rect x="220" y="478" width="1" height="6" fill="#ffffff"/>
<rect x="221" y="475" width="1" height="9" fill="#ffffff"/>
<rect x="221" y="483" width="1" height="1" fill="#ff0000"/>
<rect x="222" y="478" width="1" height="6" fill="#ffffff"/>
<rect x="222" y="483" width="1" height="1" fill="#ff0000"/>
<rect x="223" y="483" width="1" height="1" fill="#ffffff"/>
<rect x="223" y="483" width="1" height="1" fill="#ff0000"/>
<rect x="224" y="480" width="1" height="4" fill="#ffffff"/>
<rect x="224" y="483" width="1" height="1" fill="#ff0000"/>
<rect x="225" y="480" width="1" height="4" fill="#ffffff"/>
<rect x="225" y="483" width="1" height="1" fill="#ff0000"/>
<rect x="226" y="480" width="1" height="4" fill="#ffffff"/>
<rect x="227" y="479" width="1" height="5" fill="#ffffff"/>
<rect x="228" y="479" width="1" height="5" fill="#ffffff"/>
<rect x="229" y="477" width="1" height="7" fill="#ffffff"/>
<rect x="230" y="478" width="1" height="6" fill="#ffffff"/>
<rect x="230" y="483" width="1" height="1" fill="#ff0000"/>
<rect x="231" y="480" width="1" height="4" fill="#ffffff"/>
<rect x="231" y="483" width="1" height="1" fill="#ff0000"/>
<rect x="232" y="483" width="1" height="1" fill="#ffffff"/>
<rect x="232" y="483" width="1" height="1" fill="#ff0000"/>
<rect x="233" y="478" width="1" height="6" fill="#ffffff"/>
<rect x="233" y="483" width="1" height="1" fill="#ff0000"/>
<rect x="234" y="479" width="1" height="5" fill="#ffffff"/>
<rect x="234" y="483" width="1" height="1" fill="#ff0000"/>
<rect x="235" y="479" width="1" height="5" fill="#ffffff"/>
<rect x="236" y="476" width="1" height="8" fill="#ffffff"/>
<rect x="236" y="483" width="1" height="1" fill="#ff0000"/>
<rect x="237" y="479" width="1" height="5" fill="#ffffff"/>
<rect x="237" y="483" width="1" height="1" fill="#ff0000"/>
<rect x="238" y="479" width="1" height="5" fill="#ffffff"/>
<rect x="239" y="480" width="1" height="4" fill="#ffffff"/>
<rect x="239" y="483" width="1" height="1" fill="#ff0000"/>
<rect x="240" y="482" width="1" height="2" fill="#ffffff"/>
<rect x="240" y="483" width="1" height="1" fill="#ff0000"/>
<rect x="241" y="479" width="1" height="5" fill="#ffffff"/>
<rect x="242" y="478" width="1" height="6" fill="#ffffff"/>
<rect x="242" y="483" width="1" height="1" fill="#ff0000"/>
<rect x="243" y="478" width="1" height="6" fill="#ffffff"/>
<rect x="243" y="483" width="1" height="1" fill="#ff0000"/>
<rect x="244" y="477" width="1" height="7" fill="#ffffff"/>
<rect x="245" y="479" width="1" height="5" fill="#ffffff"/>
<rect x="245" y="483" width="1" height="1" fill="#ff0000"/>
<rect x="246" y="479" width="1" height="5" fill="#ffffff"/>
<rect x="246" y="483" width="1" height="1" fill="#ff0000"/>
<rect x="247" y="483" width="1" height="1" fill="#ffffff"/>
<rect x="247" y="483" width="1" height="1" fill="#ff0000"/>
<rect x="248" y="483" width="1" height="1" fill="#ffffff"/>
<rect x="248" y="483" width="1" height="1" fill="#ff0000"/>
<rect x="249" y="479" width="1" height="5" fill="#ffffff"/>
<rect x="249" y="483" width="1" height="1" fill="#ff0000"/>
<rect x="250" y="479" width="1" height="5" fill="#ffffff"/>
<rect x="251" y="479" width="1" height="5" fill="#ffffff"/>
<rect x="251" y="483" width="1" height="1" fill="#ff0000"/>
<rect x="252" y="476" width="1" height="8" fill="#ffffff"/>
<rect x="252" y="483" width="1" height="1" fill="#ff0000"/>
<rect x="253" y="479" width="1" height="5" fill="#ffffff"/>
<rect x="254" y="480" width="1" height="4" fill="#ffffff"/>
<rect x="254" y="483" width="1" height="1" fill="#ff0000"/>
<rect x="255" y="481" width="1" height="3" fill="#ffffff"/>
<rect x="255" y="483" width="1" height="1" fill="#ff0000"/>
<rect x="256" y="480" width="1" height="4" fill="#ffffff"/>
<rect x="257" y="479" width="1" height="5" fill="#ffffff"/>
<rect x="257" y="483" width="1" height="1" fill="#ff0000"/>
<rect x="258" y="478" width="1" height="6" fill="#ffffff"/>
<rect x="258" y="483" width="1" height="1" fill="#ff0000"/>
<rect x="259" y="478" width="1" height="6" fill="#ffffff"/>
<rect x="260" y="476" width="1" height="8" fill="#ffffff"/>
<rect x="260" y="483" width="1" height="1" fill="#ff0000"/>
<rect x="261" y="478" width="1" height="6" fill="#ffffff"/>
<rect x="261" y="483" width="1" height="1" fill="#ff0000"/>
<rect x="262" y="481" width="1" height="3" fill="#ffffff"/>
<rect x="263" y="480" width="1" height="4" fill="#ffffff"/>
<rect x="263" y="483" width="1" height="1" fill="#ff0000"/>
<rect x="264" y="479" width="1" height="5" fill="#ffffff"/>
<rect x="264" y="483" width="1" height="1" fill="#ff0000"/>
<rect x="265" y="480" width="1" height="4" fill="#ffffff"/>
<rect x="266" y="479" width="1" height="5" fill="#ffffff"/>
<rect x="266" y="483" width="1" height="1" fill="#ff0000"/>
<rect x="267" y="478" width="1" height="6" fill="#ffffff"/>
<rect x="267" y="483" width="1" height="1" fill="#ff0000"/>
<rect x="268" y="483" width="1" height="1" fill="#ff0000"/>
<rect x="269" y="483" width="1" height="1" fill="#ff0000"/>
<rect x="270" y="483" width="1" height="1" fill="#ff0000"/>
<rect x="271" y="483" width="1" height="1" fill="#ff0000"/>
<rect x="272" y="483" width="1" height="1" fill="#ff0000"/>
<rect x="273" y="483" width="1" height="1" fill="#ff0000"/>
<rect x="274" y="483" width="1" height="1" fill="#ff0000"/>
<rect x="275" y="483" width="1" height="1" fill="#ff0000"/>
<rect x="276" y="483" width="1" height="1" fill="#ff0000"/>
<rect x="277" y="483" width="1" height="1" fill="#ff0000"/>
<rect x="278" y="483" width="1" height="1" fill="#ff0000"/>
<rect x="279" y="481" width="1" height="3" fill="#ffffff"/>
<rect x="279" y="483" width="1" height="1" fill="#ff0000"/>
<rect x="280" y="478" width="1" height="6" fill="#ffffff"/>
<rect x="281" y="478" width="1" height="6" fill="#ffffff"/>
<rect x="281" y="483" width="1" height="1" fill="#ff0000"/>
<rect x="282" y="478" width="1" height="6" fill="#ffffff"/>
<rect x="282" y="483" width="1" height="1" fill="#ff0000"/>
<rect x="283" y="476" width="1" height="8" fill="#ffffff"/>
<rect x="284" y="478" width="1" height="6" fill="#ffffff"/>
<rect x="284" y="483" width="1" height="1" fill="#ff0000"/>
<rect x="285" y="483" width="1" height="1" fill="#ffffff"/>
<rect x="285" y="483" width="1" height="1" fill="#ff0000"/>
<rect x="286" y="482" width="1" height="2" fill="#ffffff"/>
<rect x="287" y="480" width="1" height="4" fill="#ffffff"/>
<rect x="287" y="483" width="1" height="1" fill="#ff0000"/>
<rect x="288" y="478" width="1" height="6" fill="#ffffff"/>
<rect x="288" y="483" width="1" height="1" fill="#ff0000"/>
<rect x="289" y="478" width="1" height="6" fill="#ffffff"/>
<rect x="290" y="478" width="1" height="6" fill="#ffffff"/>
<rect x="290" y="483" width="1" height="1" fill="#ff0000"/>
<rect x="291" y="475" width="1" height="9" fill="#ffffff"/>
<rect x="291" y="483" width="1" height="1" fill="#ff0000"/>
<rect x="292" y="479" width="1" height="5" fill="#ffffff"/>
<rect x="293" y="483" width="1" height="1" fill="#ffffff"/>
<rect x="293" y="483" width="1" height="1" fill="#ff0000"/>
<rect x="294" y="480" width="1" height="4" fill="#ffffff"/>
<rect x="294" y="483" width="1" height="1" fill="#ff0000"/>
<rect x="295" y="479" width="1" height="5" fill="#ffffff"/>
<rect x="296" y="480" width="1" height="4" fill="#ffffff"/>
<rect x="296" y="483" width="1" height="1" fill="#ff0000"/>
<rect x="297" y="478" width="1" height="6" fill="#ffffff"/>
<rect x="297" y="483" width="1" height="1" fill="#ff0000"/>
<rect x="298" y="478" width="1" height="6" fill="#ffffff"/>
<rect x="299" y="477" width="1" height="7" fill="#ffffff"/>
<rect x="299" y="483" width="1" height="1" fill="#ff0000"/>
<rect x="300" y="478" width="1" height="6" fill="#ffffff"/>
<rect x="300" y="483" width="1" height="1" fill="#ff0000"/>
<rect x="301" y="480" width="1" height="4" fill="#ffffff"/>
<rect x="302" y="481" width="1" height="3" fill="#ffffff"/>
<rect x="302" y="483" width="1" height="1" fill="#ff0000"/>
<rect x="303" y="480" width="1" height="4" fill="#ffffff"/>
<rect x="303" y="483" width="1" height="1" fill="#ff0000"/>
<rect x="304" y="480" width="1" height="4" fill="#ffffff"/>
<rect x="305" y="478" width="1" height="6" fill="#ffffff"/>
<rect x="305" y="483" width="1" height="1" fill="#ff0000"/>
<rect x="306" y="479" width="1" height="5" fill="#ffffff"/>
<rect x="306" y="483" width="1" height="1" fill="#ff0000"/>
<rect x="307" y="476" width="1" height="8" fill="#ffffff"/>
<rect x="308" y="479" width="1" height="5" fill="#ffffff"/>
<rect x="308" y="483" width="1" height="1" fill="#ff0000"/>
<rect x="309" y="480" width="1" height="4" fill="#ffffff"/>
<rect x="309" y="483" width="1" height="1" fill="#ff0000"/>
<rect x="310" y="483" width="1" height="1" fill="#ffffff"/>
<rect x="310" y="483" width="1" height="1" fill="#ff0000"/>
<rect x="311" y="479" width="1" height="5" fill="#ffffff"/>
<rect x="311" y="483" width="1" height="1" fill="#ff0000"/>
<rect x="312" y="478" width="1" height="6" fill="#ffffff"/>
<rect x="312" y="483" width="1" height="1" fill="#ff0000"/>
<rect x="313" y="478" width="1" height="6" fill="#ffffff"/>
<rect x="314" y="479" width="1" height="5" fill="#ffffff"/>
<rect x="314" y="483" width="1" height="1" fill="#ff0000"/>
<rect x="315" y="476" width="1" height="8" fill="#ffffff"/>
<rect x="315" y="483" width="1" height="1" fill="#ff0000"/>
<rect x="316" y="478" width="1" height="6" fill="#ffffff"/>
<rect x="317" y="481" width="1" height="3" fill="#ffffff"/>
<rect x="317" y="483" width="1" height="1" fill="#ff0000"/>
<rect x="318" y="480" width="1" height="4" fill="#ffffff"/>
<rect x="318" y="483" width="1" height="1" fill="#ff0000"/>
<rect x="319" y="480" width="1" height="4" fill="#ffffff"/>
<rect x="320" y="479" width="1" height="5" fill="#ffffff"/>
<rect x="321" y="478" width="1" height="6" fill="#ffffff"/>
<rect x="322" y="476" width="1" height="8" fill="#ffffff"/>
<rect x="323" y="478" width="1" height="6" fill="#ffffff"/>
<rect x="324" y="480" width="1" height="4" fill="#ffffff"/>
<rect x="325" y="480" width="1" height="4" fill="#ffffff"/>
<rect x="326" y="481" width="1" height="3" fill="#ffffff"/>
<rect x="326" y="483" width="1" height="1" fill="#ff0000"/>
<rect x="327" y="478" width="1" height="6" fill="#ffffff"/>
<rect x="327" y="483" width="1" height="1" fill="#ff0000"/>
<rect x="328" y="478" width="1" height="6" fill="#ffffff"/>
<rect x="329" y="479" width="1" height="5" fill="#ffffff"/>
<rect x="329" y="483" width="1" height="1" fill="#ff0000"/>
<rect x="330" y="476" width="1" height="8" fill="#ffffff"/>
<rect x="330" y="483" width="1" height="1" fill="#ff0000"/>
<rect x="331" y="479" width="1" height="5" fill="#ffffff"/>
<rect x="332" y="479" width="1" height="5" fill="#ffffff"/>
<rect x="332" y="483" width="1" height="1" fill="#ff0000"/>
<rect x="333" y="483" width="1" height="1" fill="#ffffff"/>
<rect x="333" y="483" width="1" height="1" fill="#ff0000"/>
<rect x="334" y="479" width="1" height="5" fill="#ffffff"/>
<rect x="335" y="478" width="1" height="6" fill="#ffffff"/>
<rect x="335" y="483" width="1" height="1" fill="#ff0000"/>
<rect x="336" y="478" width="1" height="6" fill="#ffffff"/>
<rect x="336" y="483" width="1" height="1" fill="#ff0000"/>
<rect x="337" y="479" width="1" height="5" fill="#ffffff"/>
<rect x="338" y="476" width="1" height="8" fill="#ffffff"/>
<rect x="339" y="479" width="1" height="5" fill="#ffffff"/>
<rect x="340" y="480" width="1" height="4" fill="#ffffff"/>
<rect x="341" y="481" width="1" height="3" fill="#ffffff"/>
<rect x="341" y="483" width="1" height="1" fill="#ff0000"/>
<rect x="342" y="479" width="1" height="5" fill="#ffffff"/>
<rect x="342" y="483" width="1" height="1" fill="#ff0000"/>
<rect x="343" y="480" width="1" height="4" fill="#ffffff"/>
<rect x="344" y="478" width="1" height="6" fill="#ffffff"/>
<rect x="344" y="483" width="1" height="1" fill="#ff0000"/>
<rect x="345" y="479" width="1" height="5" fill="#ffffff"/>
<rect x="345" y="483" width="1" height="1" fill="#ff0000"/>
<rect x="346" y="475" width="1" height="9" fill="#ffffff"/>
<rect x="347" y="478" width="1" height="6" fill="#ffffff"/>
<rect x="347" y="483" width="1" height="1" fill="#ff0000"/>
<rect x="348" y="480" width="1" height="4" fill="#ffffff"/>
<rect x="348" y="483" width="1" height="1" fill="#ff0000"/>
<rect x="349" y="480" width="1" height="4" fill="#ffffff"/>
<rect x="350" y="479" width="1" height="5" fill="#ffffff"/>
<rect x="350" y="483" width="1" height="1" fill="#ff0000"/>
<rect x="351" y="480" width="1" height="4" fill="#ffffff"/>
<rect x="351" y="483" width="1" height="1" fill="#ff0000"/>
<rect x="352" y="478" width="1" height="6" fill="#ffffff"/>
<rect x="353" y="479" width="1" height="5" fill="#ffffff"/>
<rect x="353" y="483" width="1" height="1" fill="#ff0000"/>
<rect x="354" y="476" width="1" height="8" fill="#ffffff"/>
<rect x="354" y="483" width="1" height="1" fill="#ff0000"/>
<rect x="355" y="478" width="1" height="6" fill="#ffffff"/>
<rect x="356" y="481" width="1" height="3" fill="#ffffff"/>
<rect x="356" y="483" width="1" height="1" fill="#ff0000"/>
<rect x="357" y="481" width="1" height="3" fill="#ffffff"/>
<rect x="357" y="483" width="1" height="1" fill="#ff0000"/>
<rect x="358" y="480" width="1" height="4" fill="#ffffff"/>
<rect x="359" y="479" width="1" height="5" fill="#ffffff"/>
<rect x="359" y="483" width="1" height="1" fill="#ff0000"/>
<rect x="360" y="478" width="1" height="6" fill="#ffffff"/>
<rect x="360" y="483" width="1" height="1" fill="#ff0000"/>
<rect x="361" y="476" width="1" height="8" fill="#ffffff"/>
<rect x="362" y="479" width="1" height="5" fill="#ffffff"/>
<rect x="362" y="483" width="1" height="1" fill="#ff0000"/>
<rect x="363" y="479" width="1" height="5" fill="#ffffff"/>
<rect x="363" y="483" width="1" height="1" fill="#ff0000"/>
<rect x="364" y="480" width="1" height="4" fill="#ffffff"/>
<rect x="365" y="480" width="1" height="4" fill="#ffffff"/>
<rect x="365" y="483" width="1" height="1" fill="#ff0000"/>
<rect x="366" y="478" width="1" height="6" fill="#ffffff"/>
<rect x="366" y="483" width="1" height="1" fill="#ff0000"/>
<rect x="367" y="478" width="1" height="6" fill="#ffffff"/>
<rect x="368" y="478" width="1" height="6" fill="#ffffff"/>
<rect x="368" y="483" width="1" height="1" fill="#ff0000"/>
<rect x="369" y="476" width="1" height="8" fill="#ffffff"/>
<rect x="369" y="483" width="1" height="1" fill="#ff0000"/>
<rect x="370" y="478" width="1" height="6" fill="#ffffff"/>
<rect x="371" y="479" width="1" height="5" fill="#ffffff"/>
<rect x="371" y="483" width="1" height="1" fill="#ff0000"/>
<rect x="372" y="479" width="1" height="5" fill="#ffffff"/>
<rect x="372" y="483" width="1" height="1" fill="#ff0000"/>
<rect x="373" y="479" width="1" height="5" fill="#ffffff"/>
<rect x="374" y="479" width="1" height="5" fill="#ffffff"/>
<rect x="374" y="483" width="1" height="1" fill="#ff0000"/>
<rect x="375" y="478" width="1" height="6" fill="#ffffff"/>
<rect x="375" y="483" width="1" height="1" fill="#ff0000"/>
<rect x="376" y="478" width="1" height="6" fill="#ffffff"/>
<rect x="377" y="476" width="1" height="8" fill="#ffffff"/>
<rect x="377" y="483" width="1" height="1" fill="#ff0000"/>
<rect x="378" y="479" width="1" height="5" fill="#ffffff"/>
<rect x="378" y="483" width="1" height="1" fill="#ff0000"/>
<rect x="379" y="481" width="1" height="3" fill="#ffffff"/>
<rect x="380" y="480" width="1" height="4" fill="#ffffff"/>
<rect x="380" y="483" width="1" height="1" fill="#ff0000"/>
<rect x="381" y="483" width="1" height="1" fill="#ffffff"/>
<rect x="381" y="483" width="1" height="1" fill="#ff0000"/>
<rect x="382" y="479" width="1" height="5" fill="#ffffff"/>
<rect x="383" y="479" width="1" height="5" fill="#ffffff"/>
<rect x="383" y="483" width="1" height="1" fill="#ff0000"/>
<rect x="384" y="478" width="1" height="6" fill="#ffffff"/>
<rect x="384" y="483" width="1" height="1" fill="#ff0000"/>
<rect x="385" y="477" width="1" height="7" fill="#ffffff"/>
<rect x="386" y="479" width="1" height="5" fill="#ffffff"/>
<rect x="386" y="483" width="1" height="1" fill="#ff0000"/>
<rect x="387" y="481" width="1" height="3" fill="#ffffff"/>
<rect x="387" y="483" width="1" height="1" fill="#ff0000"/>
<rect x="388" y="481" width="1" height="3" fill="#ffffff"/>
<rect x="389" y="479" width="1" height="5" fill="#ffffff"/>
<rect x="389" y="483" width="1" height="1" fill="#ff0000"/>
<rect x="390" y="478" width="1" height="6" fill="#ffffff"/>
<rect x="390" y="483" width="1" height="1" fill="#ff0000"/>
<rect x="391" y="478" width="1" height="6" fill="#ffffff"/>
<rect x="392" y="478" width="1" height="6" fill="#ffffff"/>
<rect x="392" y="483" width="1" height="1" fill="#ff0000"/>
<rect x="393" y="476" width="1" height="8" fill="#ffffff"/>
<rect x="393" y="483" width="1" height="1" fill="#ff0000"/>
<rect x="394" y="479" width="1" height="5" fill="#ffffff"/>
<rect x="395" y="480" width="1" height="4" fill="#ffffff"/>
<rect x="396" y="481" width="1" height="3" fill="#ffffff"/>
<rect x="397" y="479" width="1" height="5" fill="#ffffff"/>
<rect x="398" y="480" width="1" height="4" fill="#ffffff"/>
<rect x="398" y="483" width="1" height="1" fill="#ff0000"/>
<rect x="399" y="479" width="1" height="5" fill="#ffffff"/>
<rect x="399" y="483" width="1" height="1" fill="#ff0000"/>
<rect x="400" y="478" width="1" height="6" fill="#ffffff"/>
<rect x="401" y="476" width="1" height="8" fill="#ffffff"/>
<rect x="401" y="483" width="1" height="1" fill="#ff0000"/>
<rect x="402" y="479" width="1" height="5" fill="#ffffff"/>
<rect x="402" y="483" width="1" height="1" fill="#ff0000"/>
<rect x="403" y="480" width="1" height="4" fill="#ffffff"/>
<rect x="404" y="479" width="1" height="5" fill="#ffffff"/>
<rect x="404" y="483" width="1" height="1" fill="#ff0000"/>
<rect x="405" y="479" width="1" height="5" fill="#ffffff"/>
<rect x="405" y="483" width="1" height="1" fill="#ff0000"/>
<rect x="406" y="478" width="1" height="6" fill="#ffffff"/>
<rect x="407" y="478" width="1" height="6" fill="#ffffff"/>
<rect x="407" y="483" width="1" height="1" fill="#ff0000"/>
<rect x="408" y="476" width="1" height="8" fill="#ffffff"/>
<rect x="408" y="483" width="1" height="1" fill="#ff0000"/>
<rect x="409" y="479" width="1" height="5" fill="#ffffff"/>
<rect x="410" y="479" width="1" height="5" fill="#ffffff"/>
<rect x="410" y="483" width="1" height="1" fill="#ff0000"/>
<rect x="411" y="482" width="1" height="2" fill="#ffffff"/>
<rect x="411" y="483" width="1" height="1" fill="#ff0000"/>
<rect x="412" y="481" width="1" height="3" fill="#ffffff"/>
<rect x="413" y="478" width="1" height="6" fill="#ffffff"/>
<rect x="413" y="483" width="1" height="1" fill="#ff0000"/>
<rect x="414" y="478" width="1" height="6" fill="#ffffff"/>
<rect x="414" y="483" width="1" height="1" fill="#ff0000"/>
<rect x="415" y="479" width="1" height="5" fill="#ffffff"/>
<rect x="416" y="476" width="1" height="8" fill="#ffffff"/>
<rect x="416" y="483" width="1" height="1" fill="#ff0000"/>
<rect x="417" y="479" width="1" height="5" fill="#ffffff"/>
<rect x="417" y="483" width="1" height="1" fill="#ff0000"/>
<rect x="418" y="481" width="1" height="3" fill="#ffffff"/>
<rect x="419" y="479" width="1" height="5" fill="#ffffff"/>
<rect x="419" y="483" width="1" height="1" fill="#ff0000"/>
<rect x="420" y="480" width="1" height="4" fill="#ffffff"/>
<rect x="420" y="483" width="1" height="1" fill="#ff0000"/>
<rect x="421" y="479" width="1" height="5" fill="#ffffff"/>
<rect x="422" y="479" width="1" height="5" fill="#ffffff"/>
<rect x="422" y="483" width="1" height="1" fill="#ff0000"/>
<rect x="423" y="478" width="1" height="6" fill="#ffffff"/>
<rect x="423" y="483" width="1" height="1" fill="#ff0000"/>
<rect x="424" y="476" width="1" height="8" fill="#ffffff"/>
<rect x="425" y="479" width="1" height="5" fill="#ffffff"/>
<rect x="425" y="483" width="1" height="1" fill="#ff0000"/>
<rect x="426" y="480" width="1" height="4" fill="#ffffff"/>
<rect x="426" y="483" width="1" height="1" fill="#ff0000"/>
<rect x="427" y="479" width="1" height="5" fill="#ffffff"/>
<rect x="428" y="481" width="1" height="3" fill="#ffffff"/>
<rect x="428" y="483" width="1" height="1" fill="#ff0000"/>
<rect x="429" y="479" width="1" height="5" fill="#ffffff"/>
<rect x="429" y="483" width="1" height="1" fill="#ff0000"/>
<rect x="430" y="479" width="1" height="5" fill="#ffffff"/>
<rect x="431" y="479" width="1" height="5" fill="#ffffff"/>
<rect x="431" y="483" width="1" height="1" fill="#ff0000"/>
<rect x="432" y="476" width="1" height="8" fill="#ffffff"/>
<rect x="432" y="483" width="1" height="1" fill="#ff0000"/>
<rect x="433" y="478" width="1" height="6" fill="#ffffff"/>
<rect x="434" y="482" width="1" height="2" fill="#ffffff"/>
<rect x="434" y="483" width="1" height="1" fill="#ff0000"/>
<rect x="435" y="482" width="1" height="2" fill="#ffffff"/>
<rect x="435" y="483" width="1" height="1" fill="#ff0000"/>
<rect x="436" y="478" width="1" height="6" fill="#ffffff"/>
<rect x="437" y="479" width="1" height="5" fill="#ffffff"/>
<rect x="438" y="479" width="1" height="5" fill="#ffffff"/>
<rect x="439" y="478" width="1" height="6" fill="#ffffff"/>
<rect x="440" y="477" width="1" height="7" fill="#ffffff"/>
<rect x="441" y="479" width="1" height="5" fill="#ffffff"/>
<rect x="442" y="481" width="1" height="3" fill="#ffffff"/>
<rect x="443" y="480" width="1" height="4" fill="#ffffff"/>
<rect x="443" y="483" width="1" height="1" fill="#ff0000"/>
<rect x="444" y="479" width="1" height="5" fill="#ffffff"/>
<rect x="444" y="483" width="1" height="1" fill="#ff0000"/>
<rect x="445" y="480" width="1" height="4" fill="#ffffff"/>
<rect x="446" y="478" width="1" height="6" fill="#ffffff"/>
<rect x="447" y="476" width="1" height="8" fill="#ffffff"/>
<rect x="448" y="478" width="1" height="6" fill="#ffffff"/>
<rect x="449" y="481" width="1" height="3" fill="#ffffff"/>
<rect x="449" y="483" width="1" height="1" fill="#ff0000"/>
<rect x="450" y="483" width="1" height="1" fill="#ffffff"/>
<rect x="450" y="483" width="1" height="1" fill="#ff0000"/>
<rect x="451" y="481" width="1" height="3" fill="#ffffff"/>
<rect x="452" y="480" width="1" height="4" fill="#ffffff"/>
<rect x="452" y="483" width="1" height="1" fill="#ff0000"/>
<rect x="453" y="478" width="1" height="6" fill="#ffffff"/>
<rect x="453" y="483" width="1" height="1" fill="#ff0000"/>
<rect x="454" y="478" width="1" height="6" fill="#ffffff"/>
<rect x="455" y="476" width="1" height="8" fill="#ffffff"/>
<rect x="455" y="483" width="1" height="1" fill="#ff0000"/>
<rect x="456" y="479" width="1" height="5" fill="#ffffff"/>
<rect x="456" y="483" width="1" height="1" fill="#ff0000"/>
<rect x="457" y="479" width="1" height="5" fill="#ffffff"/>
<rect x="458" y="480" width="1" height="4" fill="#ffffff"/>
<rect x="458" y="483" width="1" height="1" fill="#ff0000"/>
<rect x="459" y="480" width="1" height="4" fill="#ffffff"/>
<rect x="459" y="483" width="1" height="1" fill="#ff0000"/>
<rect x="460" y="479" width="1" height="5" fill="#ffffff"/>
<rect x="461" y="478" width="1" height="6" fill="#ffffff"/>
<rect x="461" y="483" width="1" height="1" fill="#ff0000"/>
<rect x="462" y="478" width="1" height="6" fill="#ffffff"/>
<rect x="462" y="483" width="1" height="1" fill="#ff0000"/>
<rect x="463" y="475" width="1" height="9" fill="#ffffff"/>
<rect x="464" y="479" width="1" height="5" fill="#ffffff"/>
<rect x="464" y="483" width="1" height="1" fill="#ff0000"/>
<rect x="465" y="480" width="1" height="4" fill="#ffffff"/>
<rect x="465" y="483" width="1" height="1" fill="#ff0000"/>
<rect x="466" y="480" width="1" height="4" fill="#ffffff"/>
<rect x="467" y="480" width="1" height="4" fill="#ffffff"/>
<rect x="467" y="483" width="1" height="1" fill="#ff0000"/>
<rect x="468" y="480" width="1" height="4" fill="#ffffff"/>
<rect x="468" y="483" width="1" height="1" fill="#ff0000"/>
<rect x="469" y="479" width="1" height="5" fill="#ffffff"/>
<rect x="470" y="478" width="1" height="6" fill="#ffffff"/>
<rect x="470" y="483" width="1" height="1" fill="#ff0000"/>
<rect x="471" y="475" width="1" height="9" fill="#ffffff"/>
<rect x="471" y="483" width="1" height="1" fill="#ff0000"/>
<rect x="472" y="479" width="1" height="5" fill="#ffffff"/>
<rect x="473" y="482" width="1" height="2" fill="#ffffff"/>
<rect x="473" y="483" width="1" height="1" fill="#ff0000"/>
<rect x="474" y="481" width="1" height="3" fill="#ffffff"/>
<rect x="474" y="483" width="1" height="1" fill="#ff0000"/>
<rect x="475" y="480" width="1" height="4" fill="#ffffff"/>
<rect x="476" y="480" width="1" height="4" fill="#ffffff"/>
<rect x="477" y="478" width="1" height="6" fill="#ffffff"/>
<rect x="478" y="478" width="1" height="6" fill="#ffffff"/>
<rect x="479" y="476" width="1" height="8" fill="#ffffff"/>
<rect x="479" y="483" width="1" height="1" fill="#ff0000"/>
<rect x="480" y="479" width="1" height="5" fill="#ffffff"/>
<rect x="480" y="483" width="1" height="1" fill="#ff0000"/>
<rect x="481" y="481" width="1" height="3" fill="#ffffff"/>
<rect x="482" y="483" width="1" height="1" fill="#ffffff"/>
<rect x="482" y="483" width="1" height="1" fill="#ff0000"/>
<rect x="483" y="480" width="1" height="4" fill="#ffffff"/>
<rect x="484" y="479" width="1" height="5" fill="#ffffff"/>
<rect x="485" y="478" width="1" height="6" fill="#ffffff"/>
<rect x="485" y="483" width="1" height="1" fill="#ff0000"/>
<rect x="486" y="479" width="1" height="5" fill="#ffffff"/>
<rect x="486" y="483" width="1" height="1" fill="#ff0000"/>
<rect x="487" y="476" width="1" height="8" fill="#ffffff"/>
<rect x="488" y="479" width="1" height="5" fill="#ffffff"/>
<rect x="489" y="480" width="1" height="4" fill="#ffffff"/>
<rect x="490" y="482" width="1" height="2" fill="#ffffff"/>
<rect x="491" y="480" width="1" height="4" fill="#ffffff"/>
<rect x="491" y="483" width="1" height="1" fill="#ff0000"/>
<rect x="492" y="480" width="1" height="4" fill="#ffffff"/>
<rect x="492" y="483" width="1" height="1" fill="#ff0000"/>
<rect x="493" y="478" width="1" height="6" fill="#ffffff"/>
<rect x="494" y="476" width="1" height="8" fill="#ffffff"/>
<rect x="494" y="483" width="1" height="1" fill="#ff0000"/>
<rect x="495" y="479" width="1" height="5" fill="#ffffff"/>
<rect x="495" y="483" width="1" height="1" fill="#ff0000"/>
<rect x="496" y="480" width="1" height="4" fill="#ffffff"/>
<rect x="497" y="481" width="1" height="3" fill="#ffffff"/>
<rect x="497" y="483" width="1" height="1" fill="#ff0000"/>
<rect x="498" y="479" width="1" height="5" fill="#ffffff"/>
<rect x="498" y="483" width="1" height="1" fill="#ff0000"/>
<rect x="499" y="479" width="1" height="5" fill="#ffffff"/>
<rect x="500" y="478" width="1" height="6" fill="#ffffff"/>
<rect x="500" y="483" width="1" height="1" fill="#ff0000"/>
<rect x="501" y="478" width="1" height="6" fill="#ffffff"/>
<rect x="501" y="483" width="1" height="1" fill="#ff0000"/>
<rect x="502" y="477" width="1" height="7" fill="#ffffff"/>
<rect x="503" y="479" width="1" height="5" fill="#ffffff"/>
<rect x="503" y="483" width="1" height="1" fill="#ff0000"/>
<rect x="504" y="481" width="1" height="3" fill="#ffffff"/>
<rect x="504" y="483" width="1" height="1" fill="#ff0000"/>
<rect x="505" y="480" width="1" height="4" fill="#ffffff"/>
<rect x="506" y="483" width="1" height="1" fill="#ffffff"/>
<rect x="506" y="483" width="1" height="1" fill="#ff0000"/>
<rect x="507" y="480" width="1" height="4" fill="#ffffff"/>
<rect x="507" y="483" width="1" height="1" fill="#ff0000"/>
<rect x="508" y="479" width="1" height="5" fill="#ffffff"/>
<rect x="509" y="479" width="1" height="5" fill="#ffffff"/>
<rect x="509" y="483" width="1" height="1" fill="#ff0000"/>
<rect x="510" y="475" width="1" height="9" fill="#ffffff"/>
<rect x="510" y="483" width="1" height="1" fill="#ff0000"/>
<rect x="511" y="479" width="1" height="5" fill="#ffffff"/>
<rect x="512" y="479" width="1" height="5" fill="#ffffff"/>
<rect x="512" y="483" width="1" height="1" fill="#ff0000"/>
<rect x="513" y="481" width="1" height="3" fill="#ffffff"/>
<rect x="513" y="483" width="1" height="1" fill="#ff0000"/>
<rect x="514" y="479" width="1" height="5" fill="#ffffff"/>
<rect x="515" y="479" width="1" height="5" fill="#ffffff"/>
<rect x="515" y="483" width="1" height="1" fill="#ff0000"/>
<rect x="516" y="479" width="1" height="5" fill="#ffffff"/>
<rect x="516" y="483" width="1" height="1" fill="#ff0000"/>
<rect x="517" y="478" width="1" height="6" fill="#ffffff"/>
<rect x="518" y="476" width="1" height="8" fill="#ffffff"/>
<rect x="518" y="483" width="1" height="1" fill="#ff0000"/>
<rect x="519" y="478" width="1" height="6" fill="#ffffff"/>
<rect x="519" y="483" width="1" height="1" fill="#ff0000"/>
<rect x="520" y="480" width="1" height="4" fill="#ffffff"/>
<rect x="521" y="481" width="1" height="3" fill="#ffffff"/>
<rect x="521" y="483" width="1" height="1" fill="#ff0000"/>
<rect x="522" y="480" width="1" height="4" fill="#ffffff"/>
<rect x="522" y="483" width="1" height="1" fill="#ff0000"/>
<rect x="523" y="479" width="1" height="5" fill="#ffffff"/>
<rect x="524" y="478" width="1" height="6" fill="#ffffff"/>
<rect x="525" y="479" width="1" height="5" fill="#ffffff"/>
<rect x="526" y="475" width="1" height="9" fill="#ffffff"/>
<rect x="527" y="478" width="1" height="6" fill="#ffffff"/>
<rect x="527" y="483" width="1" height="1" fill="#ff0000"/>
<rect x="528" y="480" width="1" height="4" fill="#ffffff"/>
<rect x="528" y="483" width="1" height="1" fill="#ff0000"/>
<rect x="529" y="479" width="1" height="5" fill="#ffffff"/>
<rect x="530" y="480" width="1" height="4" fill="#ffffff"/>
<rect x="530" y="483" width="1" height="1" fill="#ff0000"/>
<rect x="531" y="479" width="1" height="5" fill="#ffffff"/>
<rect x="531" y="483" width="1" height="1" fill="#ff0000"/>
<rect x="532" y="478" width="1" height="6" fill="#ffffff"/>
<rect x="533" y="476" width="1" height="8" fill="#ffffff"/>
<rect x="533" y="483" width="1" height="1" fill="#ff0000"/>
<rect x="534" y="479" width="1" height="5" fill="#ffffff"/>
<rect x="534" y="483" width="1" height="1" fill="#ff0000"/>
<rect x="535" y="480" width="1" height="4" fill="#ffffff"/>
<rect x="536" y="480" width="1" height="4" fill="#ffffff"/>
<rect x="536" y="483" width="1" height="1" fill="#ff0000"/>
<rect x="537" y="479" width="1" height="5" fill="#ffffff"/>
<rect x="537" y="483" width="1" height="1" fill="#ff0000"/>
<rect x="538" y="480" width="1" height="4" fill="#ffffff"/>
<rect x="539" y="478" width="1" height="6" fill="#ffffff"/>
<rect x="539" y="483" width="1" height="1" fill="#ff0000"/>
<rect x="540" y="479" width="1" height="5" fill="#ffffff"/>
<rect x="540" y="483" width="1" height="1" fill="#ff0000"/>
<rect x="541" y="476" width="1" height="8" fill="#ffffff"/>
<rect x="542" y="479" width="1" height="5" fill="#ffffff"/>
<rect x="542" y="483" width="1" height="1" fill="#ff0000"/>
<rect x="543" y="481" width="1" height="3" fill="#ffffff"/>
<rect x="543" y="483" width="1" height="1" fill="#ff0000"/>
<rect x="544" y="480" width="1" height="4" fill="#ffffff"/>
<rect x="545" y="479" width="1" height="5" fill="#ffffff"/>
<rect x="545" y="483" width="1" height="1" fill="#ff0000"/>
<rect x="546" y="479" width="1" height="5" fill="#ffffff"/>
<rect x="546" y="483" width="1" height="1" fill="#ff0000"/>
<rect x="547" y="478" width="1" height="6" fill="#ffffff"/>
<rect x="548" y="478" width="1" height="6" fill="#ffffff"/>
<rect x="548" y="483" width="1" height="1" fill="#ff0000"/>
<rect x="549" y="475" width="1" height="9" fill="#ffffff"/>
<rect x="549" y="483" width="1" height="1" fill="#ff0000"/>
<rect x="550" y="478" width="1" height="6" fill="#ffffff"/>
<rect x="551" y="480" width="1" height="4" fill="#ffffff"/>
<rect x="551" y="483" width="1" height="1" fill="#ff0000"/>
<rect x="552" y="481" width="1" height="3" fill="#ffffff"/>
<rect x="552" y="483" width="1" height="1" fill="#ff0000"/>
<rect x="553" y="480" width="1" height="4" fill="#ffffff"/>
<rect x="554" y="478" width="1" height="6" fill="#ffffff"/>
<rect x="555" y="478" width="1" height="6" fill="#ffffff"/>
<rect x="556" y="479" width="1" height="5" fill="#ffffff"/>
<rect x="557" y="477" width="1" height="7" fill="#ffffff"/>
<rect x="557" y="483" width="1" height="1" fill="#ff0000"/>
<rect x="558" y="478" width="1" height="6" fill="#ffffff"/>
<rect x="558" y="483" width="1" height="1" fill="#ff0000"/>
<rect x="559" y="480" width="1" height="4" fill="#ffffff"/>
<rect x="560" y="481" width="1" height="3" fill="#ffffff"/>
<rect x="560" y="483" width="1" height="1" fill="#ff0000"/>
<rect x="561" y="479" width="1" height="5" fill="#ffffff"/>
<rect x="561" y="483" width="1" height="1" fill="#ff0000"/>
<rect x="562" y="479" width="1" height="5" fill="#ffffff"/>
<rect x="563" y="478" width="1" height="6" fill="#ffffff"/>
<rect x="563" y="483" width="1" height="1" fill="#ff0000"/>
<rect x="564" y="479" width="1" height="5" fill="#ffffff"/>
<rect x="564" y="483" width="1" height="1" fill="#ff0000"/>
<rect x="565" y="477" width="1" height="7" fill="#ffffff"/>
<rect x="566" y="478" width="1" height="6" fill="#ffffff"/>
<rect x="566" y="483" width="1" height="1" fill="#ff0000"/>
<rect x="567" y="479" width="1" height="5" fill="#ffffff"/>
<rect x="567" y="483" width="1" height="1" fill="#ff0000"/>
<rect x="568" y="480" width="1" height="4" fill="#ffffff"/>
<rect x="569" y="479" width="1" height="5" fill="#ffffff"/>
<rect x="569" y="483" width="1" height="1" fill="#ff0000"/>
<rect x="570" y="478" width="1" height="6" fill="#ffffff"/>
<rect x="570" y="483" width="1" height="1" fill="#ff0000"/>
<rect x="571" y="478" width="1" height="6" fill="#ffffff"/>
<rect x="572" y="478" width="1" height="6" fill="#ffffff"/>
<rect x="572" y="483" width="1" height="1" fill="#ff0000"/>
<rect x="573" y="476" width="1" height="8" fill="#ffffff"/>
<rect x="573" y="483" width="1" height="1" fill="#ff0000"/>
<rect x="574" y="479" width="1" height="5" fill="#ffffff"/>
<rect x="575" y="480" width="1" height="4" fill="#ffffff"/>
<rect x="575" y="483" width="1" height="1" fill="#ff0000"/>
<rect x="576" y="481" width="1" height="3" fill="#ffffff"/>
<rect x="576" y="483" width="1" height="1" fill="#ff0000"/>
<rect x="577" y="478" width="1" height="6" fill="#ffffff"/>
<rect x="578" y="480" width="1" height="4" fill="#ffffff"/>
<rect x="578" y="483" width="1" height="1" fill="#ff0000"/>
<rect x="579" y="478" width="1" height="6" fill="#ffffff"/>
<rect x="579" y="483" width="1" height="1" fill="#ff0000"/>
<rect x="580" y="476" width="1" height="8" fill="#ffffff"/>
<rect x="581" y="479" width="1" height="5" fill="#ffffff"/>
<rect x="581" y="483" width="1" height="1" fill="#ff0000"/>
<rect x="582" y="483" width="1" height="1" fill="#ffffff"/>
<rect x="582" y="483" width="1" height="1" fill="#ff0000"/>
<rect x="583" y="479" width="1" height="5" fill="#ffffff"/>
<rect x="584" y="481" width="1" height="3" fill="#ffffff"/>
<rect x="584" y="483" width="1" height="1" fill="#ff0000"/>
<rect x="585" y="480" width="1" height="4" fill="#ffffff"/>
<rect x="585" y="483" width="1" height="1" fill="#ff0000"/>
<rect x="586" y="478" width="1" height="6" fill="#ffffff"/>
<rect x="587" y="478" width="1" height="6" fill="#ffffff"/>
<rect x="588" y="477" width="1" height="7" fill="#ffffff"/>
<rect x="589" y="478" width="1" height="6" fill="#ffffff"/>
<rect x="590" y="480" width="1" height="4" fill="#ffffff"/>
<rect x="590" y="483" width="1" height="1" fill="#ff0000"/>
<rect x="591" y="479" width="1" height="5" fill="#ffffff"/>
<rect x="591" y="483" width="1" height="1" fill="#ff0000"/>
<rect x="592" y="483" width="1" height="1" fill="#ffffff"/>
<rect x="592" y="483" width="1" height="1" fill="#ff0000"/>
<rect x="593" y="479" width="1" height="5" fill="#ffffff"/>
<rect x="594" y="479" width="1" height="5" fill="#ffffff"/>
<rect x="595" y="478" width="1" height="6" fill="#ffffff"/>
<rect x="596" y="476" width="1" height="8" fill="#ffffff"/>
<rect x="596" y="483" width="1" height="1" fill="#ff0000"/>
<rect x="597" y="478" width="1" height="6" fill="#ffffff"/>
<rect x="597" y="483" width="1" height="1" fill="#ff0000"/>
<rect x="598" y="480" width="1" height="4" fill="#ffffff"/>
<rect x="599" y="483" width="1" height="1" fill="#ffffff"/>
<rect x="599" y="483" width="1" height="1" fill="#ff0000"/>
<rect x="600" y="480" width="1" height="4" fill="#ffffff"/>
<rect x="600" y="483" width="1" height="1" fill="#ff0000"/>
<rect x="601" y="480" width="1" height="4" fill="#ffffff"/>
<rect x="602" y="479" width="1" height="5" fill="#ffffff"/>
<rect x="602" y="483" width="1" height="1" fill="#ff0000"/>
<rect x="603" y="479" width="1" height="5" fill="#ffffff"/>
<rect x="603" y="483" width="1" height="1" fill="#ff0000"/>
<rect x="604" y="477" width="1" height="7" fill="#ffffff"/>
<rect x="605" y="479" width="1" height="5" fill="#ffffff"/>
<rect x="606" y="480" width="1" height="4" fill="#ffffff"/>
<rect x="607" y="481" width="1" height="3" fill="#ffffff"/>
<rect x="608" y="480" width="1" height="4" fill="#ffffff"/>
<rect x="608" y="483" width="1" height="1" fill="#ff0000"/>
<rect x="609" y="479" width="1" height="5" fill="#ffffff"/>
<rect x="609" y="483" width="1" height="1" fill="#ff0000"/>
<rect x="610" y="478" width="1" height="6" fill="#ffffff"/>
<rect x="611" y="478" width="1" height="6" fill="#ffffff"/>
<rect x="611" y="483" width="1" height="1" fill="#ff0000"/>
<rect x="612" y="477" width="1" height="7" fill="#ffffff"/>
<rect x="612" y="483" width="1" height="1" fill="#ff0000"/>
<rect x="613" y="478" width="1" height="6" fill="#ffffff"/>
<rect x="614" y="479" width="1" height="5" fill="#ffffff"/>
<rect x="614" y="483" width="1" height="1" fill="#ff0000"/>
<rect x="615" y="481" width="1" height="3" fill="#ffffff"/>
<rect x="615" y="483" width="1" height="1" fill="#ff0000"/>
<rect x="616" y="480" width="1" height="4" fill="#ffffff"/>
<rect x="617" y="480" width="1" height="4" fill="#ffffff"/>
<rect x="617" y="483" width="1" height="1" fill="#ff0000"/>
<rect x="618" y="478" width="1" height="6" fill="#ffffff"/>
<rect x="618" y="483" width="1" height="1" fill="#ff0000"/>
<rect x="619" y="475" width="1" height="9" fill="#ffffff"/>
<rect x="620" y="479" width="1" height="5" fill="#ffffff"/>
<rect x="620" y="483" width="1" height="1" fill="#ff0000"/>
<rect x="621" y="479" width="1" height="5" fill="#ffffff"/>
<rect x="621" y="483" width="1" height="1" fill="#ff0000"/>
<rect x="622" y="481" width="1" height="3" fill="#ffffff"/>
<rect x="623" y="480" width="1" height="4" fill="#ffffff"/>
<rect x="623" y="483" width="1" height="1" fill="#ff0000"/>
<rect x="624" y="480" width="1" height="4" fill="#ffffff"/>
<rect x="624" y="483" width="1" height="1" fill="#ff0000"/>
<rect x="625" y="478" width="1" height="6" fill="#ffffff"/>
<rect x="626" y="478" width="1" height="6" fill="#ffffff"/>
<rect x="626" y="483" width="1" height="1" fill="#ff0000"/>
<rect x="627" y="475" width="1" height="9" fill="#ffffff"/>
<rect x="627" y="483" width="1" height="1" fill="#ff0000"/>
<rect x="628" y="478" width="1" height="6" fill="#ffffff"/>
<rect x="629" y="481" width="1" height="3" fill="#ffffff"/>
<rect x="630" y="480" width="1" height="4" fill="#ffffff"/>
<rect x="631" y="481" width="1" height="3" fill="#ffffff"/>
<rect x="632" y="479" width="1" height="5" fill="#ffffff"/>
<rect x="632" y="483" width="1" height="1" fill="#ff0000"/>
<rect x="633" y="478" width="1" height="6" fill="#ffffff"/>
<rect x="633" y="483" width="1" height="1" fill="#ff0000"/>
<rect x="634" y="478" width="1" height="6" fill="#ffffff"/>
<rect x="635" y="476" width="1" height="8" fill="#ffffff"/>
<rect x="636" y="479" width="1" height="5" fill="#ffffff"/>
<rect x="637" y="481" width="1" height="3" fill="#ffffff"/>
<rect x="638" y="480" width="1" height="4" fill="#ffffff"/>
<rect x="639" y="481" width="1" height="3" fill="#ffffff"/>
<rect x="640" y="478" width="1" height="6" fill="#ffffff"/>
<rect x="641" y="479" width="1" height="5" fill="#ffffff"/>
<rect x="641" y="483" width="1" height="1" fill="#ff0000"/>
<rect x="642" y="478" width="1" height="6" fill="#ffffff"/>
<rect x="642" y="483" width="1" height="1" fill="#ff0000"/>
<rect x="643" y="477" width="1" height="7" fill="#ffffff"/>
<rect x="644" y="478" width="1" height="6" fill="#ffffff"/>
<rect x="644" y="483" width="1" height="1" fill="#ff0000"/>
<rect x="645" y="482" width="1" height="2" fill="#ffffff"/>
<rect x="645" y="483" width="1" height="1" fill="#ff0000"/>
<rect x="646" y="480" width="1" height="4" fill="#ffffff"/>
<rect x="647" y="479" width="1" height="5" fill="#ffffff"/>
<rect x="647" y="483" width="1" height="1" fill="#ff0000"/>
<rect x="648" y="480" width="1" height="4" fill="#ffffff"/>
<rect x="648" y="483" width="1" height="1" fill="#ff0000"/>
<rect x="649" y="478" width="1" height="6" fill="#ffffff"/>
<rect x="650" y="478" width="1" height="6" fill="#ffffff"/>
<rect x="650" y="483" width="1" height="1" fill="#ff0000"/>
<rect x="651" y="476" width="1" height="8" fill="#ffffff"/>
<rect x="651" y="483" width="1" height="1" fill="#ff0000"/>
<rect x="652" y="478" width="1" height="6" fill="#ffffff"/>
<rect x="653" y="481" width="1" height="3" fill="#ffffff"/>
<rect x="653" y="483" width="1" height="1" fill="#ff0000"/>
<rect x="654" y="481" width="1" height="3" fill="#ffffff"/>
<rect x="654" y="483" width="1" height="1" fill="#ff0000"/>
<rect x="655" y="479" width="1" height="5" fill="#ffffff"/>
<rect x="656" y="479" width="1" height="5" fill="#ffffff"/>
<rect x="657" y="479" width="1" height="5" fill="#ffffff"/>
<rect x="658" y="478" width="1" height="6" fill="#ffffff"/>
<rect x="659" y="476" width="1" height="8" fill="#ffffff"/>
<rect x="659" y="483" width="1" height="1" fill="#ff0000"/>
<rect x="660" y="479" width="1" height="5" fill="#ffffff"/>
<rect x="660" y="483" width="1" height="1" fill="#ff0000"/>
<rect x="661" y="479" width="1" height="5" fill="#ffffff"/>
<rect x="662" y="481" width="1" height="3" fill="#ffffff"/>
<rect x="662" y="483" width="1" height="1" fill="#ff0000"/>
<rect x="663" y="479" width="1" height="5" fill="#ffffff"/>
<rect x="663" y="483" width="1" height="1" fill="#ff0000"/>
<rect x="664" y="478" width="1" height="6" fill="#ffffff"/>
<rect x="665" y="478" width="1" height="6" fill="#ffffff"/>
<rect x="665" y="483" width="1" height="1" fill="#ff0000"/>
<rect x="666" y="476" width="1" height="8" fill="#ffffff"/>
<rect x="666" y="483" width="1" height="1" fill="#ff0000"/>
<rect x="667" y="479" width="1" height="5" fill="#ffffff"/>
<rect x="668" y="480" width="1" height="4" fill="#ffffff"/>
<rect x="668" y="483" width="1" height="1" fill="#ff0000"/>
<rect x="669" y="480" width="1" height="4" fill="#ffffff"/>
<rect x="669" y="483" width="1" height="1" fill="#ff0000"/>
<rect x="670" y="479" width="1" height="5" fill="#ffffff"/>
</g>
<g>
<text x="244" y="14" font-size="11" textLength="34" lengthAdjust="spacingAndGlyphs" fill="#ffffff">16:00</text>
<text x="244" y="502" font-size="11" textLength="34" lengthAdjust="spacingAndGlyphs" fill="#ffffff">16:00</text>
<text x="400" y="14" font-size="11" textLength="34" lengthAdjust="spacingAndGlyphs" fill="#ffffff">12:00</text>
<text x="400" y="502" font-size="11" textLength="34" lengthAdjust="spacingAndGlyphs" fill="#ffffff">12:00</text>
<text x="556" y="14" font-size="11" textLength="34" lengthAdjust="spacingAndGlyphs" fill="#ffffff">08:00</text>
<text x="556" y="502" font-size="11" textLength="34" lengthAdjust="spacingAndGlyphs" fill="#ffffff">08:00</text>
<text y="62" font-size="12.3" fill="#ffffff"><tspan x="18" textLength="14.6" lengthAdjust="spacingAndGlyphs">TM</tspan> <tspan x="40" textLength="55.2" lengthAdjust="spacingAndGlyphs">SUBMODE</tspan></text>
<text y="109" font-size="12.3" fill="#ffffff"><tspan x="7.2" textLength="61.5" lengthAdjust="spacingAndGlyphs">LASCO/EIT</tspan> <tspan x="75.4" textLength="26.4" lengthAdjust="spacingAndGlyphs">(DP)</tspan></text>
<text x="101" y="39" font-size="12.3" textLength="6" lengthAdjust="spacingAndGlyphs" fill="#ffffff">5</text>
<text x="101" y="48" font-size="12.3" textLength="6" lengthAdjust="spacingAndGlyphs" fill="#ffffff">4</text>
<text x="101" y="57" font-size="12.3" textLength="6" lengthAdjust="spacingAndGlyphs" fill="#ffffff">3</text>
<text x="101" y="67" font-size="12.3" textLength="6" lengthAdjust="spacingAndGlyphs" fill="#ffffff">2</text>
<text x="101" y="76" font-size="12.3" textLength="6" lengthAdjust="spacingAndGlyphs" fill="#ffffff">1</text>
<text x="49" y="144" font-size="12.3" textLength="52" lengthAdjust="spacingAndGlyphs" fill="#ffffff">OS<tspan dy="-2.6">_</tspan><tspan dy="2.6">3092</tspan></text>
<text x="49" y="157" font-size="12.3" textLength="52" lengthAdjust="spacingAndGlyphs" fill="#ffffff">OS<tspan dy="-2.6">_</tspan><tspan dy="2.6">3342</tspan></text>
<text x="49" y="171" font-size="12.3" textLength="52" lengthAdjust="spacingAndGlyphs" fill="#ffffff">OS<tspan dy="-2.6">_</tspan><tspan dy="2.6">3361</tspan></text>
<text x="49" y="184" font-size="12.3" textLength="52" lengthAdjust="spacingAndGlyphs" fill="#ffffff">OS<tspan dy="-2.6">_</tspan><tspan dy="2.6">3367</tspan></text>
<text x="49" y="198" font-size="12.3" textLength="52" lengthAdjust="spacingAndGlyphs" fill="#ffffff">OS<tspan dy="-2.6">_</tspan><tspan dy="2.6">3368</tspan></text>
<text x="49" y="211" font-size="12.3" textLength="52" lengthAdjust="spacingAndGlyphs" fill="#ffffff">OS<tspan dy="-2.6">_</tspan><tspan dy="2.6">3369</tspan></text>
<text x="49" y="224" font-size="12.3" textLength="52" lengthAdjust="spacingAndGlyphs" fill="#ffffff">OS<tspan dy="-2.6">_</tspan><tspan dy="2.6">3370</tspan></text>
<text x="49" y="238" font-size="12.3" textLength="52" lengthAdjust="spacingAndGlyphs" fill="#ffffff">OS<tspan dy="-2.6">_</tspan><tspan dy="2.6">3371</tspan></text>
<text x="49" y="251" font-size="12.3" textLength="52" lengthAdjust="spacingAndGlyphs" fill="#ffffff">OS<tspan dy="-2.6">_</tspan><tspan dy="2.6">3372</tspan></text>
<text x="49" y="264" font-size="12.3" textLength="52" lengthAdjust="spacingAndGlyphs" fill="#ffffff">OS<tspan dy="-2.6">_</tspan><tspan dy="2.6">3373</tspan></text>
<text x="49" y="278" font-size="12.3" textLength="52" lengthAdjust="spacingAndGlyphs" fill="#ffffff">OS<tspan dy="-2.6">_</tspan><tspan dy="2.6">3374</tspan></text>
<text x="49" y="291" font-size="12.3" textLength="52" lengthAdjust="spacingAndGlyphs" fill="#ffffff">OS<tspan dy="-2.6">_</tspan><tspan dy="2.6">3387</tspan></text>
<text x="49" y="305" font-size="12.3" textLength="52" lengthAdjust="spacingAndGlyphs" fill="#ffffff">OS<tspan dy="-2.6">_</tspan><tspan dy="2.6">3389</tspan></text>
<text x="49" y="318" font-size="12.3" textLength="52" lengthAdjust="spacingAndGlyphs" fill="#ffffff">OS<tspan dy="-2.6">_</tspan><tspan dy="2.6">3390</tspan></text>
<text x="49" y="331" font-size="12.3" textLength="52" lengthAdjust="spacingAndGlyphs" fill="#ffffff">OS<tspan dy="-2.6">_</tspan><tspan dy="2.6">3405</tspan></text>
<text x="49" y="345" font-size="12.3" textLength="52" lengthAdjust="spacingAndGlyphs" fill="#ffffff">OS<tspan dy="-2.6">_</tspan><tspan dy="2.6">3406</tspan></text>
<text x="49" y="358" font-size="12.3" textLength="52" lengthAdjust="spacingAndGlyphs" fill="#ffffff">OS<tspan dy="-2.6">_</tspan><tspan dy="2.6">3527</tspan></text>
<text x="49" y="371" font-size="12.3" textLength="52" lengthAdjust="spacingAndGlyphs" fill="#ffffff">OS<tspan dy="-2.6">_</tspan><tspan dy="2.6">3528</tspan></text>
<text x="49" y="385" font-size="12.3" textLength="52" lengthAdjust="spacingAndGlyphs" fill="#ffffff">OS<tspan dy="-2.6">_</tspan><tspan dy="2.6">3529</tspan></text>
<text x="49" y="398" font-size="12.3" textLength="52" lengthAdjust="spacingAndGlyphs" fill="#ffffff">OS<tspan dy="-2.6">_</tspan><tspan dy="2.6">3530</tspan></text>
<text x="49" y="412" font-size="12.3" textLength="52" lengthAdjust="spacingAndGlyphs" fill="#ffffff">OS<tspan dy="-2.6">_</tspan><tspan dy="2.6">3531</tspan></text>
<text x="87" y="432" font-size="12.3" textLength="20.6" lengthAdjust="spacingAndGlyphs" fill="#ffffff">100</text>
<text x="93" y="444" font-size="12.3" textLength="14.6" lengthAdjust="spacingAndGlyphs" fill="#ffffff">80</text>
<text x="93" y="478" font-size="12.3" textLength="14.6" lengthAdjust="spacingAndGlyphs" fill="#ffffff">20</text>
<text x="101" y="489" font-size="12.3" textLength="6.6" lengthAdjust="spacingAndGlyphs" fill="#ffffff">0</text>
<text y="453" font-size="12.3" fill="#ffffff"><tspan x="7.2" textLength="37" lengthAdjust="spacingAndGlyphs">LASCO</tspan><tspan x="43.4" textLength="11.2" lengthAdjust="spacingAndGlyphs">-</tspan><tspan x="55" textLength="35.5" lengthAdjust="spacingAndGlyphs">buffer</tspan></text>
<text x="310" y="518" font-size="12.3" fill="#ffffff"><tspan textLength="74" lengthAdjust="spacingAndGlyphs">1999/12/13</tspan> <tspan x="392" textLength="78" lengthAdjust="spacingAndGlyphs">20:30:00.000</tspan></text>
<text x="14" y="520" font-size="9.7" textLength="11" lengthAdjust="spacingAndGlyphs" fill="#ff0000" stroke="#ff0000" stroke-width="0.35">C1</text>
<text x="35" y="520" font-size="9.7" textLength="12" lengthAdjust="spacingAndGlyphs" fill="#00ff00" stroke="#00ff00" stroke-width="0.35">C2</text>
<text x="56" y="520" font-size="9.7" textLength="12.4" lengthAdjust="spacingAndGlyphs" fill="#9ee6fa" stroke="#9ee6fa" stroke-width="0.35">C3</text>
<text x="77" y="520" font-size="9.7" textLength="13" lengthAdjust="spacingAndGlyphs" fill="#ffff00" stroke="#ffff00" stroke-width="0.35">EIT</text>
<text x="435" y="179.6" font-size="11.5" textLength="4.8" lengthAdjust="spacingAndGlyphs" fill="#ffffff">c</text>
<text x="437" y="233.5" font-size="10.5" textLength="5" lengthAdjust="spacingAndGlyphs" fill="#ffffff">a</text>
<text x="440" y="342" font-size="12.3" textLength="4.8" lengthAdjust="spacingAndGlyphs" fill="#ffffff">c</text>
</g>
</svg>
</body></html>
